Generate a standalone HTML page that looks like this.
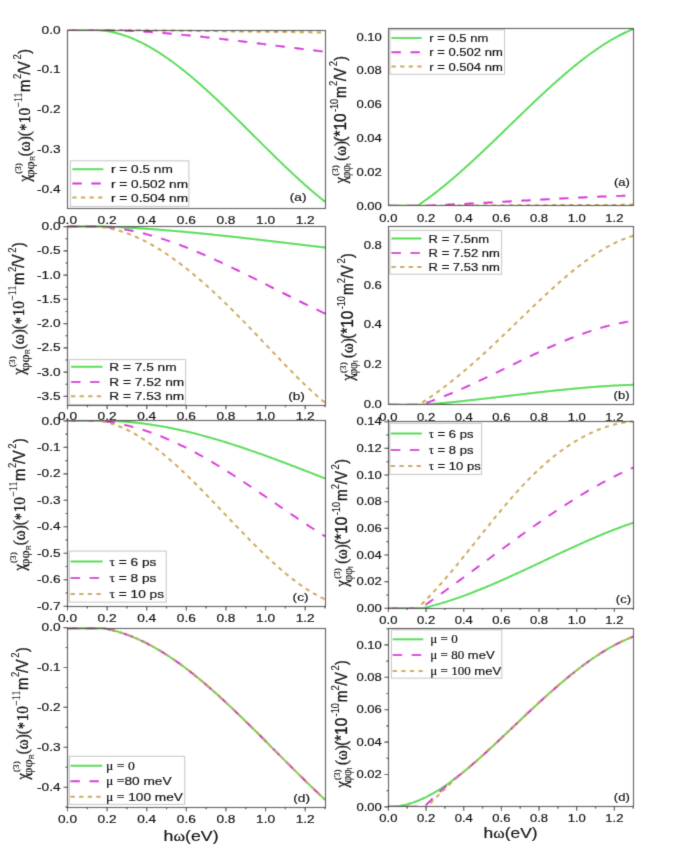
<!DOCTYPE html><html><head><meta charset="utf-8"><title>figure</title><style>html,body{margin:0;padding:0;background:#fff}svg{display:block}</style></head><body>
<svg width="685" height="849" viewBox="0 0 685 849">
<defs>
<filter id="bl" filterUnits="userSpaceOnUse" x="0" y="0" width="685" height="849"><feConvolveMatrix order="3" kernelMatrix="1 5 1 5 25 5 1 5 1" divisor="49" edgeMode="duplicate" preserveAlpha="true"/></filter>
<clipPath id="cL1"><rect x="67.5" y="28.5" width="257.5" height="180.2"/></clipPath>
<clipPath id="cL2"><rect x="67.5" y="225.1" width="257.5" height="180.1"/></clipPath>
<clipPath id="cL3"><rect x="67.5" y="419.4" width="257.5" height="187.0"/></clipPath>
<clipPath id="cL4"><rect x="67.5" y="626.7" width="257.5" height="180.5"/></clipPath>
<clipPath id="cR1"><rect x="388.4" y="27.4" width="244.80000000000007" height="178.4"/></clipPath>
<clipPath id="cR2"><rect x="388.4" y="224.9" width="244.80000000000007" height="179.9"/></clipPath>
<clipPath id="cR3"><rect x="388.4" y="420.0" width="244.80000000000007" height="188.10000000000002"/></clipPath>
<clipPath id="cR4"><rect x="388.4" y="626.8" width="244.80000000000007" height="179.9000000000001"/></clipPath>
<filter id="bt" filterUnits="userSpaceOnUse" x="0" y="0" width="685" height="849"><feConvolveMatrix order="3" kernelMatrix="1 8 1 8 64 8 1 8 1" divisor="100" edgeMode="none" preserveAlpha="false"/></filter>
</defs>
<g filter="url(#bl)"><rect width="685" height="849" fill="#fff"/>
<g clip-path="url(#cL1)" fill="none" stroke-linejoin="round">
<path d="M67.5,30.0 L88.0,30.0 L89.0,30.0 L90.0,30.0 L91.0,30.0 L92.0,30.0 L93.0,30.0 L94.0,30.0 L95.0,30.0 L96.0,30.0 L97.0,30.0 L98.0,30.0 L99.0,30.1 L100.0,30.2 L101.0,30.3 L102.0,30.4 L103.0,30.5 L104.0,30.6 L105.0,30.7 L106.0,30.9 L107.0,31.0 L108.0,31.2 L109.0,31.4 L110.0,31.6 L111.0,31.8 L112.0,32.0 L113.0,32.2 L114.0,32.4 L115.0,32.7 L116.0,32.9 L117.0,33.2 L118.0,33.5 L119.0,33.8 L120.0,34.0 L121.0,34.3 L122.0,34.7 L123.0,35.0 L124.0,35.3 L125.0,35.7 L126.0,36.0 L127.0,36.4 L128.0,36.7 L129.0,37.1 L130.0,37.5 L131.0,37.9 L132.0,38.3 L133.0,38.7 L134.0,39.2 L135.0,39.6 L136.0,40.1 L137.0,40.5 L138.0,41.0 L139.0,41.5 L140.0,41.9 L141.0,42.4 L142.0,42.9 L143.0,43.4 L144.0,43.9 L145.0,44.5 L146.0,45.0 L147.0,45.5 L148.0,46.1 L149.0,46.6 L150.0,47.2 L151.0,47.8 L152.0,48.4 L153.0,49.0 L154.0,49.5 L155.0,50.2 L156.0,50.8 L157.0,51.4 L158.0,52.0 L159.0,52.6 L160.0,53.3 L161.0,53.9 L162.0,54.6 L163.0,55.3 L164.0,55.9 L165.0,56.6 L166.0,57.3 L167.0,58.0 L168.0,58.7 L169.0,59.4 L170.0,60.1 L171.0,60.8 L172.0,61.5 L173.0,62.3 L174.0,63.0 L175.0,63.8 L176.0,64.5 L177.0,65.3 L178.0,66.0 L179.0,66.8 L180.0,67.6 L181.0,68.3 L182.0,69.1 L183.0,69.9 L184.0,70.7 L185.0,71.5 L186.0,72.3 L187.0,73.2 L188.0,74.0 L189.0,74.8 L190.0,75.6 L191.0,76.5 L192.0,77.3 L193.0,78.2 L194.0,79.0 L195.0,79.9 L196.0,80.7 L197.0,81.6 L198.0,82.5 L199.0,83.3 L200.0,84.2 L201.0,85.1 L202.0,86.0 L203.0,86.9 L204.0,87.8 L205.0,88.7 L206.0,89.6 L207.0,90.5 L208.0,91.4 L209.0,92.3 L210.0,93.2 L211.0,94.1 L212.0,95.1 L213.0,96.0 L214.0,96.9 L215.0,97.9 L216.0,98.8 L217.0,99.7 L218.0,100.7 L219.0,101.6 L220.0,102.6 L221.0,103.5 L222.0,104.5 L223.0,105.4 L224.0,106.4 L225.0,107.4 L226.0,108.3 L227.0,109.3 L228.0,110.3 L229.0,111.2 L230.0,112.2 L231.0,113.2 L232.0,114.2 L233.0,115.1 L234.0,116.1 L235.0,117.1 L236.0,118.1 L237.0,119.1 L238.0,120.1 L239.0,121.0 L240.0,122.0 L241.0,123.0 L242.0,124.0 L243.0,125.0 L244.0,126.0 L245.0,127.0 L246.0,128.0 L247.0,129.0 L248.0,130.0 L249.0,131.0 L250.0,132.0 L251.0,133.0 L252.0,134.0 L253.0,135.0 L254.0,136.0 L255.0,136.9 L256.0,137.9 L257.0,138.9 L258.0,139.9 L259.0,140.9 L260.0,141.9 L261.0,142.9 L262.0,143.9 L263.0,144.9 L264.0,145.9 L265.0,146.9 L266.0,147.9 L267.0,148.9 L268.0,149.9 L269.0,150.8 L270.0,151.8 L271.0,152.8 L272.0,153.8 L273.0,154.8 L274.0,155.8 L275.0,156.7 L276.0,157.7 L277.0,158.7 L278.0,159.7 L279.0,160.6 L280.0,161.6 L281.0,162.6 L282.0,163.5 L283.0,164.5 L284.0,165.4 L285.0,166.4 L286.0,167.3 L287.0,168.3 L288.0,169.2 L289.0,170.2 L290.0,171.1 L291.0,172.1 L292.0,173.0 L293.0,173.9 L294.0,174.9 L295.0,175.8 L296.0,176.7 L297.0,177.6 L298.0,178.6 L299.0,179.5 L300.0,180.4 L301.0,181.3 L302.0,182.2 L303.0,183.1 L304.0,184.0 L305.0,184.9 L306.0,185.8 L307.0,186.6 L308.0,187.5 L309.0,188.4 L310.0,189.2 L311.0,190.1 L312.0,191.0 L313.0,191.8 L314.0,192.7 L315.0,193.5 L316.0,194.4 L317.0,195.2 L318.0,196.0 L319.0,196.8 L320.0,197.7 L321.0,198.5 L322.0,199.3 L323.0,200.1 L324.0,200.9 L325.0,201.7" stroke="#44dd44" stroke-width="2.0"/>
<path d="M67.5,30.0 L68.5,30.0 L69.5,30.0 L70.5,30.0 L71.5,30.0 L72.5,30.0 L73.5,30.0 L74.5,30.0 L75.5,30.0 L76.5,30.0 L77.5,30.0 L78.5,30.0 L79.5,30.0 L80.5,30.0 L81.5,30.0 L82.5,30.0 L83.5,30.0 L84.5,30.0 L85.5,30.0 L86.5,30.0 L87.5,30.0 L88.5,30.0 L89.5,30.0 L90.5,30.0 L91.5,30.0 L92.5,30.0 L93.5,30.0 L94.5,30.0 L95.5,30.0 L96.5,30.0 L97.5,30.0 L98.5,30.0 L99.5,30.0 L100.5,30.0 L101.5,30.0 L102.5,30.0 L103.5,30.0 L104.5,30.0 L105.5,30.0 L106.5,30.0 L107.5,30.0 L108.5,30.0 L109.5,30.0 L110.5,30.1 L111.5,30.1 L112.5,30.1 L113.5,30.2 L114.5,30.2 L115.5,30.2 L116.5,30.3 L117.5,30.3 L118.5,30.3 L119.5,30.4 L120.5,30.4 L121.5,30.5 L122.5,30.5 L123.5,30.5 L124.5,30.6 L125.5,30.6 L126.5,30.7 L127.5,30.7 L128.5,30.8 L129.5,30.8 L130.5,30.9 L131.5,30.9 L132.5,31.0 L133.5,31.0 L134.5,31.1 L135.5,31.1 L136.5,31.2 L137.5,31.3 L138.5,31.3 L139.5,31.4 L140.5,31.4 L141.5,31.5 L142.5,31.6 L143.5,31.6 L144.5,31.7 L145.5,31.8 L146.5,31.8 L147.5,31.9 L148.5,32.0 L149.5,32.0 L150.5,32.1 L151.5,32.2 L152.5,32.2 L153.5,32.3 L154.5,32.4 L155.5,32.5 L156.5,32.5 L157.5,32.6 L158.5,32.7 L159.5,32.8 L160.5,32.9 L161.5,32.9 L162.5,33.0 L163.5,33.1 L164.5,33.2 L165.5,33.3 L166.5,33.3 L167.5,33.4 L168.5,33.5 L169.5,33.6 L170.5,33.7 L171.5,33.8 L172.5,33.9 L173.5,34.0 L174.5,34.0 L175.5,34.1 L176.5,34.2 L177.5,34.3 L178.5,34.4 L179.5,34.5 L180.5,34.6 L181.5,34.7 L182.5,34.8 L183.5,34.9 L184.5,35.0 L185.5,35.1 L186.5,35.2 L187.5,35.3 L188.5,35.4 L189.5,35.5 L190.5,35.6 L191.5,35.7 L192.5,35.8 L193.5,35.9 L194.5,36.0 L195.5,36.1 L196.5,36.2 L197.5,36.3 L198.5,36.4 L199.5,36.5 L200.5,36.6 L201.5,36.7 L202.5,36.8 L203.5,36.9 L204.5,37.0 L205.5,37.2 L206.5,37.3 L207.5,37.4 L208.5,37.5 L209.5,37.6 L210.5,37.7 L211.5,37.8 L212.5,37.9 L213.5,38.0 L214.5,38.2 L215.5,38.3 L216.5,38.4 L217.5,38.5 L218.5,38.6 L219.5,38.7 L220.5,38.8 L221.5,39.0 L222.5,39.1 L223.5,39.2 L224.5,39.3 L225.5,39.4 L226.5,39.5 L227.5,39.7 L228.5,39.8 L229.5,39.9 L230.5,40.0 L231.5,40.1 L232.5,40.3 L233.5,40.4 L234.5,40.5 L235.5,40.6 L236.5,40.7 L237.5,40.9 L238.5,41.0 L239.5,41.1 L240.5,41.2 L241.5,41.3 L242.5,41.5 L243.5,41.6 L244.5,41.7 L245.5,41.8 L246.5,42.0 L247.5,42.1 L248.5,42.2 L249.5,42.3 L250.5,42.5 L251.5,42.6 L252.5,42.7 L253.5,42.8 L254.5,43.0 L255.5,43.1 L256.5,43.2 L257.5,43.3 L258.5,43.5 L259.5,43.6 L260.5,43.7 L261.5,43.8 L262.5,44.0 L263.5,44.1 L264.5,44.2 L265.5,44.3 L266.5,44.5 L267.5,44.6 L268.5,44.7 L269.5,44.8 L270.5,45.0 L271.5,45.1 L272.5,45.2 L273.5,45.3 L274.5,45.5 L275.5,45.6 L276.5,45.7 L277.5,45.9 L278.5,46.0 L279.5,46.1 L280.5,46.2 L281.5,46.4 L282.5,46.5 L283.5,46.6 L284.5,46.7 L285.5,46.9 L286.5,47.0 L287.5,47.1 L288.5,47.2 L289.5,47.4 L290.5,47.5 L291.5,47.6 L292.5,47.7 L293.5,47.9 L294.5,48.0 L295.5,48.1 L296.5,48.2 L297.5,48.4 L298.5,48.5 L299.5,48.6 L300.5,48.7 L301.5,48.9 L302.5,49.0 L303.5,49.1 L304.5,49.2 L305.5,49.4 L306.5,49.5 L307.5,49.6 L308.5,49.7 L309.5,49.8 L310.5,50.0 L311.5,50.1 L312.5,50.2 L313.5,50.3 L314.5,50.4 L315.5,50.6 L316.5,50.7 L317.5,50.8 L318.5,50.9 L319.5,51.0 L320.5,51.2 L321.5,51.3 L322.5,51.4 L323.5,51.5 L324.5,51.6 L325.0,51.7" stroke="#d814d8" stroke-width="2.0" stroke-dasharray="9.5 9.5"/>
<path d="M67.5,30.0 L68.5,30.0 L69.5,30.0 L70.5,30.0 L71.5,30.0 L72.5,30.0 L73.5,30.0 L74.5,30.0 L75.5,30.0 L76.5,30.0 L77.5,30.0 L78.5,30.0 L79.5,30.0 L80.5,30.0 L81.5,30.0 L82.5,30.0 L83.5,30.0 L84.5,30.0 L85.5,30.0 L86.5,30.0 L87.5,30.0 L88.5,30.0 L89.5,30.0 L90.5,30.0 L91.5,30.0 L92.5,30.0 L93.5,30.0 L94.5,30.0 L95.5,30.0 L96.5,30.0 L97.5,30.0 L98.5,30.0 L99.5,30.0 L100.5,30.0 L101.5,30.0 L102.5,30.1 L103.5,30.1 L104.5,30.1 L105.5,30.1 L106.5,30.1 L107.5,30.1 L108.5,30.1 L109.5,30.1 L110.5,30.1 L111.5,30.1 L112.5,30.1 L113.5,30.1 L114.5,30.1 L115.5,30.1 L116.5,30.1 L117.5,30.1 L118.5,30.1 L119.5,30.1 L120.5,30.1 L121.5,30.1 L122.5,30.1 L123.5,30.1 L124.5,30.1 L125.5,30.1 L126.5,30.1 L127.5,30.1 L128.5,30.1 L129.5,30.1 L130.5,30.1 L131.5,30.2 L132.5,30.2 L133.5,30.2 L134.5,30.2 L135.5,30.2 L136.5,30.2 L137.5,30.2 L138.5,30.2 L139.5,30.2 L140.5,30.2 L141.5,30.2 L142.5,30.2 L143.5,30.3 L144.5,30.3 L145.5,30.3 L146.5,30.3 L147.5,30.3 L148.5,30.3 L149.5,30.3 L150.5,30.3 L151.5,30.3 L152.5,30.3 L153.5,30.4 L154.5,30.4 L155.5,30.4 L156.5,30.4 L157.5,30.4 L158.5,30.4 L159.5,30.4 L160.5,30.4 L161.5,30.4 L162.5,30.5 L163.5,30.5 L164.5,30.5 L165.5,30.5 L166.5,30.5 L167.5,30.5 L168.5,30.5 L169.5,30.5 L170.5,30.6 L171.5,30.6 L172.5,30.6 L173.5,30.6 L174.5,30.6 L175.5,30.6 L176.5,30.6 L177.5,30.6 L178.5,30.7 L179.5,30.7 L180.5,30.7 L181.5,30.7 L182.5,30.7 L183.5,30.7 L184.5,30.7 L185.5,30.8 L186.5,30.8 L187.5,30.8 L188.5,30.8 L189.5,30.8 L190.5,30.8 L191.5,30.8 L192.5,30.8 L193.5,30.9 L194.5,30.9 L195.5,30.9 L196.5,30.9 L197.5,30.9 L198.5,30.9 L199.5,30.9 L200.5,30.9 L201.5,31.0 L202.5,31.0 L203.5,31.0 L204.5,31.0 L205.5,31.0 L206.5,31.0 L207.5,31.0 L208.5,31.0 L209.5,31.1 L210.5,31.1 L211.5,31.1 L212.5,31.1 L213.5,31.1 L214.5,31.1 L215.5,31.1 L216.5,31.1 L217.5,31.2 L218.5,31.2 L219.5,31.2 L220.5,31.2 L221.5,31.2 L222.5,31.2 L223.5,31.2 L224.5,31.3 L225.5,31.3 L226.5,31.3 L227.5,31.3 L228.5,31.3 L229.5,31.3 L230.5,31.3 L231.5,31.3 L232.5,31.4 L233.5,31.4 L234.5,31.4 L235.5,31.4 L236.5,31.4 L237.5,31.4 L238.5,31.4 L239.5,31.5 L240.5,31.5 L241.5,31.5 L242.5,31.5 L243.5,31.5 L244.5,31.5 L245.5,31.5 L246.5,31.6 L247.5,31.6 L248.5,31.6 L249.5,31.6 L250.5,31.6 L251.5,31.6 L252.5,31.6 L253.5,31.7 L254.5,31.7 L255.5,31.7 L256.5,31.7 L257.5,31.7 L258.5,31.7 L259.5,31.7 L260.5,31.7 L261.5,31.8 L262.5,31.8 L263.5,31.8 L264.5,31.8 L265.5,31.8 L266.5,31.8 L267.5,31.8 L268.5,31.8 L269.5,31.9 L270.5,31.9 L271.5,31.9 L272.5,31.9 L273.5,31.9 L274.5,31.9 L275.5,31.9 L276.5,31.9 L277.5,32.0 L278.5,32.0 L279.5,32.0 L280.5,32.0 L281.5,32.0 L282.5,32.0 L283.5,32.0 L284.5,32.0 L285.5,32.0 L286.5,32.1 L287.5,32.1 L288.5,32.1 L289.5,32.1 L290.5,32.1 L291.5,32.1 L292.5,32.1 L293.5,32.1 L294.5,32.2 L295.5,32.2 L296.5,32.2 L297.5,32.2 L298.5,32.2 L299.5,32.2 L300.5,32.2 L301.5,32.2 L302.5,32.2 L303.5,32.3 L304.5,32.3 L305.5,32.3 L306.5,32.3 L307.5,32.3 L308.5,32.3 L309.5,32.3 L310.5,32.3 L311.5,32.4 L312.5,32.4 L313.5,32.4 L314.5,32.4 L315.5,32.4 L316.5,32.4 L317.5,32.4 L318.5,32.4 L319.5,32.4 L320.5,32.5 L321.5,32.5 L322.5,32.5 L323.5,32.5 L324.5,32.5 L325.0,32.5" stroke="#cda640" stroke-width="2.0" stroke-dasharray="4.3 4.3"/>
</g>
<rect x="70.4" y="160.8" width="118.5" height="45.599999999999994" fill="#fff" stroke="#c4c4c4" stroke-width="1"/>
<line x1="72.3" y1="169.2" x2="103.3" y2="169.2" stroke="#44dd44" stroke-width="2"/>
<line x1="72.3" y1="183.6" x2="103.3" y2="183.6" stroke="#d814d8" stroke-width="2" stroke-dasharray="9.5 9.5"/>
<line x1="72.3" y1="197.6" x2="103.3" y2="197.6" stroke="#cda640" stroke-width="2" stroke-dasharray="4.3 4.3"/>
<rect x="67.5" y="30.5" width="258.0" height="178.0" fill="none" stroke="#303030" stroke-width="1.15"/>
<g clip-path="url(#cL2)" fill="none" stroke-linejoin="round">
<path d="M67.5,226.6 L105.0,226.6 L106.0,226.6 L107.0,226.7 L108.0,226.7 L109.0,226.8 L110.0,226.8 L111.0,226.8 L112.0,226.9 L113.0,226.9 L114.0,227.0 L115.0,227.0 L116.0,227.1 L117.0,227.1 L118.0,227.1 L119.0,227.2 L120.0,227.2 L121.0,227.3 L122.0,227.3 L123.0,227.4 L124.0,227.4 L125.0,227.5 L126.0,227.6 L127.0,227.6 L128.0,227.7 L129.0,227.7 L130.0,227.8 L131.0,227.8 L132.0,227.9 L133.0,228.0 L134.0,228.0 L135.0,228.1 L136.0,228.1 L137.0,228.2 L138.0,228.3 L139.0,228.3 L140.0,228.4 L141.0,228.4 L142.0,228.5 L143.0,228.6 L144.0,228.6 L145.0,228.7 L146.0,228.8 L147.0,228.8 L148.0,228.9 L149.0,229.0 L150.0,229.1 L151.0,229.1 L152.0,229.2 L153.0,229.3 L154.0,229.3 L155.0,229.4 L156.0,229.5 L157.0,229.6 L158.0,229.6 L159.0,229.7 L160.0,229.8 L161.0,229.9 L162.0,230.0 L163.0,230.0 L164.0,230.1 L165.0,230.2 L166.0,230.3 L167.0,230.4 L168.0,230.4 L169.0,230.5 L170.0,230.6 L171.0,230.7 L172.0,230.8 L173.0,230.9 L174.0,230.9 L175.0,231.0 L176.0,231.1 L177.0,231.2 L178.0,231.3 L179.0,231.4 L180.0,231.5 L181.0,231.6 L182.0,231.6 L183.0,231.7 L184.0,231.8 L185.0,231.9 L186.0,232.0 L187.0,232.1 L188.0,232.2 L189.0,232.3 L190.0,232.4 L191.0,232.5 L192.0,232.6 L193.0,232.7 L194.0,232.8 L195.0,232.8 L196.0,232.9 L197.0,233.0 L198.0,233.1 L199.0,233.2 L200.0,233.3 L201.0,233.4 L202.0,233.5 L203.0,233.6 L204.0,233.7 L205.0,233.8 L206.0,233.9 L207.0,234.0 L208.0,234.1 L209.0,234.2 L210.0,234.3 L211.0,234.4 L212.0,234.5 L213.0,234.6 L214.0,234.8 L215.0,234.9 L216.0,235.0 L217.0,235.1 L218.0,235.2 L219.0,235.3 L220.0,235.4 L221.0,235.5 L222.0,235.6 L223.0,235.7 L224.0,235.8 L225.0,235.9 L226.0,236.0 L227.0,236.1 L228.0,236.2 L229.0,236.3 L230.0,236.5 L231.0,236.6 L232.0,236.7 L233.0,236.8 L234.0,236.9 L235.0,237.0 L236.0,237.1 L237.0,237.2 L238.0,237.3 L239.0,237.4 L240.0,237.6 L241.0,237.7 L242.0,237.8 L243.0,237.9 L244.0,238.0 L245.0,238.1 L246.0,238.2 L247.0,238.4 L248.0,238.5 L249.0,238.6 L250.0,238.7 L251.0,238.8 L252.0,238.9 L253.0,239.0 L254.0,239.1 L255.0,239.3 L256.0,239.4 L257.0,239.5 L258.0,239.6 L259.0,239.7 L260.0,239.8 L261.0,240.0 L262.0,240.1 L263.0,240.2 L264.0,240.3 L265.0,240.4 L266.0,240.5 L267.0,240.7 L268.0,240.8 L269.0,240.9 L270.0,241.0 L271.0,241.1 L272.0,241.2 L273.0,241.4 L274.0,241.5 L275.0,241.6 L276.0,241.7 L277.0,241.8 L278.0,242.0 L279.0,242.1 L280.0,242.2 L281.0,242.3 L282.0,242.4 L283.0,242.5 L284.0,242.7 L285.0,242.8 L286.0,242.9 L287.0,243.0 L288.0,243.1 L289.0,243.3 L290.0,243.4 L291.0,243.5 L292.0,243.6 L293.0,243.7 L294.0,243.8 L295.0,244.0 L296.0,244.1 L297.0,244.2 L298.0,244.3 L299.0,244.4 L300.0,244.6 L301.0,244.7 L302.0,244.8 L303.0,244.9 L304.0,245.0 L305.0,245.2 L306.0,245.3 L307.0,245.4 L308.0,245.5 L309.0,245.6 L310.0,245.7 L311.0,245.9 L312.0,246.0 L313.0,246.1 L314.0,246.2 L315.0,246.3 L316.0,246.5 L317.0,246.6 L318.0,246.7 L319.0,246.8 L320.0,246.9 L321.0,247.0 L322.0,247.2 L323.0,247.3 L324.0,247.4 L325.0,247.5" stroke="#44dd44" stroke-width="2.0"/>
<path d="M67.5,226.6 L100.0,226.6 L101.0,226.7 L102.0,226.7 L103.0,226.8 L104.0,226.9 L105.0,226.9 L106.0,227.0 L107.0,227.1 L108.0,227.2 L109.0,227.3 L110.0,227.4 L111.0,227.5 L112.0,227.6 L113.0,227.7 L114.0,227.8 L115.0,228.0 L116.0,228.1 L117.0,228.2 L118.0,228.4 L119.0,228.5 L120.0,228.7 L121.0,228.8 L122.0,229.0 L123.0,229.1 L124.0,229.3 L125.0,229.5 L126.0,229.7 L127.0,229.8 L128.0,230.0 L129.0,230.2 L130.0,230.4 L131.0,230.6 L132.0,230.8 L133.0,231.0 L134.0,231.2 L135.0,231.4 L136.0,231.7 L137.0,231.9 L138.0,232.1 L139.0,232.4 L140.0,232.6 L141.0,232.8 L142.0,233.1 L143.0,233.3 L144.0,233.6 L145.0,233.8 L146.0,234.1 L147.0,234.4 L148.0,234.6 L149.0,234.9 L150.0,235.2 L151.0,235.4 L152.0,235.7 L153.0,236.0 L154.0,236.3 L155.0,236.6 L156.0,236.9 L157.0,237.2 L158.0,237.5 L159.0,237.8 L160.0,238.1 L161.0,238.4 L162.0,238.8 L163.0,239.1 L164.0,239.4 L165.0,239.7 L166.0,240.1 L167.0,240.4 L168.0,240.7 L169.0,241.1 L170.0,241.4 L171.0,241.8 L172.0,242.1 L173.0,242.5 L174.0,242.8 L175.0,243.2 L176.0,243.5 L177.0,243.9 L178.0,244.3 L179.0,244.6 L180.0,245.0 L181.0,245.4 L182.0,245.8 L183.0,246.2 L184.0,246.5 L185.0,246.9 L186.0,247.3 L187.0,247.7 L188.0,248.1 L189.0,248.5 L190.0,248.9 L191.0,249.3 L192.0,249.7 L193.0,250.1 L194.0,250.5 L195.0,250.9 L196.0,251.4 L197.0,251.8 L198.0,252.2 L199.0,252.6 L200.0,253.0 L201.0,253.5 L202.0,253.9 L203.0,254.3 L204.0,254.8 L205.0,255.2 L206.0,255.6 L207.0,256.1 L208.0,256.5 L209.0,256.9 L210.0,257.4 L211.0,257.8 L212.0,258.3 L213.0,258.7 L214.0,259.2 L215.0,259.6 L216.0,260.1 L217.0,260.6 L218.0,261.0 L219.0,261.5 L220.0,261.9 L221.0,262.4 L222.0,262.9 L223.0,263.3 L224.0,263.8 L225.0,264.3 L226.0,264.7 L227.0,265.2 L228.0,265.7 L229.0,266.2 L230.0,266.6 L231.0,267.1 L232.0,267.6 L233.0,268.1 L234.0,268.6 L235.0,269.0 L236.0,269.5 L237.0,270.0 L238.0,270.5 L239.0,271.0 L240.0,271.5 L241.0,272.0 L242.0,272.5 L243.0,272.9 L244.0,273.4 L245.0,273.9 L246.0,274.4 L247.0,274.9 L248.0,275.4 L249.0,275.9 L250.0,276.4 L251.0,276.9 L252.0,277.4 L253.0,277.9 L254.0,278.4 L255.0,278.9 L256.0,279.4 L257.0,279.9 L258.0,280.4 L259.0,280.9 L260.0,281.4 L261.0,281.9 L262.0,282.4 L263.0,282.9 L264.0,283.4 L265.0,283.9 L266.0,284.4 L267.0,284.9 L268.0,285.4 L269.0,285.9 L270.0,286.5 L271.0,287.0 L272.0,287.5 L273.0,288.0 L274.0,288.5 L275.0,289.0 L276.0,289.5 L277.0,290.0 L278.0,290.5 L279.0,291.0 L280.0,291.5 L281.0,292.0 L282.0,292.5 L283.0,293.0 L284.0,293.5 L285.0,294.0 L286.0,294.5 L287.0,295.0 L288.0,295.5 L289.0,296.0 L290.0,296.5 L291.0,297.0 L292.0,297.5 L293.0,298.0 L294.0,298.5 L295.0,299.0 L296.0,299.5 L297.0,300.0 L298.0,300.5 L299.0,301.0 L300.0,301.5 L301.0,302.0 L302.0,302.5 L303.0,303.0 L304.0,303.5 L305.0,304.0 L306.0,304.4 L307.0,304.9 L308.0,305.4 L309.0,305.9 L310.0,306.4 L311.0,306.9 L312.0,307.4 L313.0,307.8 L314.0,308.3 L315.0,308.8 L316.0,309.3 L317.0,309.7 L318.0,310.2 L319.0,310.7 L320.0,311.2 L321.0,311.6 L322.0,312.1 L323.0,312.6 L324.0,313.0 L325.0,313.5" stroke="#d814d8" stroke-width="2.0" stroke-dasharray="9.5 9.5"/>
<path d="M67.5,226.6 L95.0,226.6 L96.0,226.7 L97.0,226.7 L98.0,226.8 L99.0,226.9 L100.0,227.0 L101.0,227.1 L102.0,227.2 L103.0,227.3 L104.0,227.5 L105.0,227.6 L106.0,227.8 L107.0,227.9 L108.0,228.1 L109.0,228.3 L110.0,228.5 L111.0,228.7 L112.0,228.9 L113.0,229.1 L114.0,229.4 L115.0,229.6 L116.0,229.9 L117.0,230.1 L118.0,230.4 L119.0,230.7 L120.0,231.0 L121.0,231.3 L122.0,231.6 L123.0,231.9 L124.0,232.3 L125.0,232.6 L126.0,232.9 L127.0,233.3 L128.0,233.7 L129.0,234.0 L130.0,234.4 L131.0,234.8 L132.0,235.2 L133.0,235.6 L134.0,236.0 L135.0,236.5 L136.0,236.9 L137.0,237.3 L138.0,237.8 L139.0,238.3 L140.0,238.7 L141.0,239.2 L142.0,239.7 L143.0,240.2 L144.0,240.7 L145.0,241.2 L146.0,241.7 L147.0,242.2 L148.0,242.8 L149.0,243.3 L150.0,243.9 L151.0,244.4 L152.0,245.0 L153.0,245.5 L154.0,246.1 L155.0,246.7 L156.0,247.3 L157.0,247.9 L158.0,248.5 L159.0,249.1 L160.0,249.7 L161.0,250.4 L162.0,251.0 L163.0,251.6 L164.0,252.3 L165.0,253.0 L166.0,253.6 L167.0,254.3 L168.0,255.0 L169.0,255.6 L170.0,256.3 L171.0,257.0 L172.0,257.7 L173.0,258.4 L174.0,259.2 L175.0,259.9 L176.0,260.6 L177.0,261.4 L178.0,262.1 L179.0,262.8 L180.0,263.6 L181.0,264.4 L182.0,265.1 L183.0,265.9 L184.0,266.7 L185.0,267.4 L186.0,268.2 L187.0,269.0 L188.0,269.8 L189.0,270.6 L190.0,271.4 L191.0,272.3 L192.0,273.1 L193.0,273.9 L194.0,274.7 L195.0,275.6 L196.0,276.4 L197.0,277.3 L198.0,278.1 L199.0,279.0 L200.0,279.9 L201.0,280.7 L202.0,281.6 L203.0,282.5 L204.0,283.4 L205.0,284.2 L206.0,285.1 L207.0,286.0 L208.0,286.9 L209.0,287.8 L210.0,288.7 L211.0,289.7 L212.0,290.6 L213.0,291.5 L214.0,292.4 L215.0,293.4 L216.0,294.3 L217.0,295.2 L218.0,296.2 L219.0,297.1 L220.0,298.1 L221.0,299.0 L222.0,300.0 L223.0,301.0 L224.0,301.9 L225.0,302.9 L226.0,303.9 L227.0,304.8 L228.0,305.8 L229.0,306.8 L230.0,307.8 L231.0,308.8 L232.0,309.8 L233.0,310.8 L234.0,311.8 L235.0,312.8 L236.0,313.8 L237.0,314.8 L238.0,315.8 L239.0,316.8 L240.0,317.8 L241.0,318.8 L242.0,319.8 L243.0,320.9 L244.0,321.9 L245.0,322.9 L246.0,323.9 L247.0,325.0 L248.0,326.0 L249.0,327.0 L250.0,328.1 L251.0,329.1 L252.0,330.1 L253.0,331.2 L254.0,332.2 L255.0,333.3 L256.0,334.3 L257.0,335.3 L258.0,336.4 L259.0,337.4 L260.0,338.5 L261.0,339.5 L262.0,340.6 L263.0,341.6 L264.0,342.7 L265.0,343.7 L266.0,344.8 L267.0,345.8 L268.0,346.9 L269.0,347.9 L270.0,349.0 L271.0,350.0 L272.0,351.1 L273.0,352.2 L274.0,353.2 L275.0,354.3 L276.0,355.3 L277.0,356.4 L278.0,357.4 L279.0,358.5 L280.0,359.5 L281.0,360.6 L282.0,361.6 L283.0,362.7 L284.0,363.7 L285.0,364.7 L286.0,365.8 L287.0,366.8 L288.0,367.8 L289.0,368.9 L290.0,369.9 L291.0,370.9 L292.0,371.9 L293.0,373.0 L294.0,374.0 L295.0,375.0 L296.0,376.0 L297.0,377.0 L298.0,378.0 L299.0,379.0 L300.0,380.0 L301.0,381.0 L302.0,381.9 L303.0,382.9 L304.0,383.9 L305.0,384.8 L306.0,385.8 L307.0,386.8 L308.0,387.7 L309.0,388.6 L310.0,389.6 L311.0,390.5 L312.0,391.4 L313.0,392.3 L314.0,393.2 L315.0,394.1 L316.0,395.0 L317.0,395.9 L318.0,396.8 L319.0,397.6 L320.0,398.5 L321.0,399.3 L322.0,400.2 L323.0,401.0 L324.0,401.8 L325.0,402.7" stroke="#cda640" stroke-width="2.0" stroke-dasharray="4.3 4.3"/>
</g>
<rect x="69.3" y="359.6" width="116.3" height="45.0" fill="#fff" stroke="#c4c4c4" stroke-width="1"/>
<line x1="71" y1="366.8" x2="102.5" y2="366.8" stroke="#44dd44" stroke-width="2"/>
<line x1="71" y1="381.9" x2="102.5" y2="381.9" stroke="#d814d8" stroke-width="2" stroke-dasharray="9.5 9.5"/>
<line x1="71" y1="396.3" x2="102.5" y2="396.3" stroke="#cda640" stroke-width="2" stroke-dasharray="4.3 4.3"/>
<rect x="67.5" y="226.5" width="258.0" height="179.0" fill="none" stroke="#303030" stroke-width="1.15"/>
<path d="M63.5,226.60H67.5M63.5,250.85H67.5M63.5,275.10H67.5M63.5,299.35H67.5M63.5,323.60H67.5M63.5,347.85H67.5M63.5,372.10H67.5M63.5,396.35H67.5M65.5,238.72H67.5M65.5,262.98H67.5M65.5,287.23H67.5M65.5,311.48H67.5M65.5,335.73H67.5M65.5,359.98H67.5M65.5,384.23H67.5M67.50,405.2V409.2M87.31,405.2V407.2M107.12,405.2V409.2M126.92,405.2V407.2M146.73,405.2V409.2M166.54,405.2V407.2M186.35,405.2V409.2M206.15,405.2V407.2M225.96,405.2V409.2M245.77,405.2V407.2M265.58,405.2V409.2M285.38,405.2V407.2M305.19,405.2V409.2M325.00,405.2V407.2" stroke="#303030" stroke-width="1.1" fill="none"/>
<g clip-path="url(#cL3)" fill="none" stroke-linejoin="round">
<path d="M67.5,420.9 L105.0,420.9 L106.0,420.9 L107.0,420.9 L108.0,420.9 L109.0,421.0 L110.0,421.0 L111.0,421.0 L112.0,421.0 L113.0,421.1 L114.0,421.1 L115.0,421.1 L116.0,421.2 L117.0,421.2 L118.0,421.3 L119.0,421.3 L120.0,421.4 L121.0,421.5 L122.0,421.5 L123.0,421.6 L124.0,421.6 L125.0,421.7 L126.0,421.8 L127.0,421.9 L128.0,421.9 L129.0,422.0 L130.0,422.1 L131.0,422.2 L132.0,422.3 L133.0,422.4 L134.0,422.5 L135.0,422.6 L136.0,422.7 L137.0,422.8 L138.0,422.9 L139.0,423.0 L140.0,423.2 L141.0,423.3 L142.0,423.4 L143.0,423.5 L144.0,423.6 L145.0,423.8 L146.0,423.9 L147.0,424.0 L148.0,424.2 L149.0,424.3 L150.0,424.5 L151.0,424.6 L152.0,424.8 L153.0,424.9 L154.0,425.1 L155.0,425.2 L156.0,425.4 L157.0,425.6 L158.0,425.7 L159.0,425.9 L160.0,426.1 L161.0,426.2 L162.0,426.4 L163.0,426.6 L164.0,426.8 L165.0,427.0 L166.0,427.1 L167.0,427.3 L168.0,427.5 L169.0,427.7 L170.0,427.9 L171.0,428.1 L172.0,428.3 L173.0,428.5 L174.0,428.7 L175.0,428.9 L176.0,429.1 L177.0,429.4 L178.0,429.6 L179.0,429.8 L180.0,430.0 L181.0,430.2 L182.0,430.5 L183.0,430.7 L184.0,430.9 L185.0,431.1 L186.0,431.4 L187.0,431.6 L188.0,431.8 L189.0,432.1 L190.0,432.3 L191.0,432.6 L192.0,432.8 L193.0,433.1 L194.0,433.3 L195.0,433.6 L196.0,433.8 L197.0,434.1 L198.0,434.3 L199.0,434.6 L200.0,434.9 L201.0,435.1 L202.0,435.4 L203.0,435.7 L204.0,435.9 L205.0,436.2 L206.0,436.5 L207.0,436.8 L208.0,437.0 L209.0,437.3 L210.0,437.6 L211.0,437.9 L212.0,438.2 L213.0,438.5 L214.0,438.7 L215.0,439.0 L216.0,439.3 L217.0,439.6 L218.0,439.9 L219.0,440.2 L220.0,440.5 L221.0,440.8 L222.0,441.1 L223.0,441.4 L224.0,441.7 L225.0,442.0 L226.0,442.3 L227.0,442.7 L228.0,443.0 L229.0,443.3 L230.0,443.6 L231.0,443.9 L232.0,444.2 L233.0,444.6 L234.0,444.9 L235.0,445.2 L236.0,445.5 L237.0,445.9 L238.0,446.2 L239.0,446.5 L240.0,446.8 L241.0,447.2 L242.0,447.5 L243.0,447.8 L244.0,448.2 L245.0,448.5 L246.0,448.8 L247.0,449.2 L248.0,449.5 L249.0,449.9 L250.0,450.2 L251.0,450.6 L252.0,450.9 L253.0,451.3 L254.0,451.6 L255.0,452.0 L256.0,452.3 L257.0,452.7 L258.0,453.0 L259.0,453.4 L260.0,453.7 L261.0,454.1 L262.0,454.4 L263.0,454.8 L264.0,455.1 L265.0,455.5 L266.0,455.9 L267.0,456.2 L268.0,456.6 L269.0,457.0 L270.0,457.3 L271.0,457.7 L272.0,458.1 L273.0,458.4 L274.0,458.8 L275.0,459.2 L276.0,459.5 L277.0,459.9 L278.0,460.3 L279.0,460.7 L280.0,461.0 L281.0,461.4 L282.0,461.8 L283.0,462.2 L284.0,462.5 L285.0,462.9 L286.0,463.3 L287.0,463.7 L288.0,464.0 L289.0,464.4 L290.0,464.8 L291.0,465.2 L292.0,465.6 L293.0,466.0 L294.0,466.3 L295.0,466.7 L296.0,467.1 L297.0,467.5 L298.0,467.9 L299.0,468.3 L300.0,468.6 L301.0,469.0 L302.0,469.4 L303.0,469.8 L304.0,470.2 L305.0,470.6 L306.0,471.0 L307.0,471.4 L308.0,471.8 L309.0,472.1 L310.0,472.5 L311.0,472.9 L312.0,473.3 L313.0,473.7 L314.0,474.1 L315.0,474.5 L316.0,474.9 L317.0,475.3 L318.0,475.7 L319.0,476.1 L320.0,476.5 L321.0,476.9 L322.0,477.3 L323.0,477.6 L324.0,478.0 L325.0,478.4" stroke="#44dd44" stroke-width="2.0"/>
<path d="M67.5,420.9 L100.0,420.9 L101.0,421.0 L102.0,421.1 L103.0,421.2 L104.0,421.3 L105.0,421.4 L106.0,421.5 L107.0,421.7 L108.0,421.8 L109.0,421.9 L110.0,422.1 L111.0,422.2 L112.0,422.4 L113.0,422.6 L114.0,422.7 L115.0,422.9 L116.0,423.1 L117.0,423.3 L118.0,423.5 L119.0,423.6 L120.0,423.8 L121.0,424.1 L122.0,424.3 L123.0,424.5 L124.0,424.7 L125.0,424.9 L126.0,425.2 L127.0,425.4 L128.0,425.6 L129.0,425.9 L130.0,426.1 L131.0,426.4 L132.0,426.7 L133.0,426.9 L134.0,427.2 L135.0,427.5 L136.0,427.8 L137.0,428.1 L138.0,428.3 L139.0,428.6 L140.0,428.9 L141.0,429.3 L142.0,429.6 L143.0,429.9 L144.0,430.2 L145.0,430.5 L146.0,430.9 L147.0,431.2 L148.0,431.5 L149.0,431.9 L150.0,432.2 L151.0,432.6 L152.0,433.0 L153.0,433.3 L154.0,433.7 L155.0,434.1 L156.0,434.4 L157.0,434.8 L158.0,435.2 L159.0,435.6 L160.0,436.0 L161.0,436.4 L162.0,436.8 L163.0,437.2 L164.0,437.6 L165.0,438.0 L166.0,438.5 L167.0,438.9 L168.0,439.3 L169.0,439.7 L170.0,440.2 L171.0,440.6 L172.0,441.1 L173.0,441.5 L174.0,442.0 L175.0,442.4 L176.0,442.9 L177.0,443.4 L178.0,443.8 L179.0,444.3 L180.0,444.8 L181.0,445.3 L182.0,445.8 L183.0,446.2 L184.0,446.7 L185.0,447.2 L186.0,447.7 L187.0,448.2 L188.0,448.7 L189.0,449.3 L190.0,449.8 L191.0,450.3 L192.0,450.8 L193.0,451.3 L194.0,451.9 L195.0,452.4 L196.0,452.9 L197.0,453.5 L198.0,454.0 L199.0,454.6 L200.0,455.1 L201.0,455.7 L202.0,456.2 L203.0,456.8 L204.0,457.4 L205.0,457.9 L206.0,458.5 L207.0,459.1 L208.0,459.6 L209.0,460.2 L210.0,460.8 L211.0,461.4 L212.0,462.0 L213.0,462.6 L214.0,463.2 L215.0,463.8 L216.0,464.4 L217.0,465.0 L218.0,465.6 L219.0,466.2 L220.0,466.8 L221.0,467.4 L222.0,468.0 L223.0,468.7 L224.0,469.3 L225.0,469.9 L226.0,470.5 L227.0,471.2 L228.0,471.8 L229.0,472.4 L230.0,473.1 L231.0,473.7 L232.0,474.3 L233.0,475.0 L234.0,475.6 L235.0,476.3 L236.0,476.9 L237.0,477.6 L238.0,478.2 L239.0,478.9 L240.0,479.5 L241.0,480.2 L242.0,480.8 L243.0,481.5 L244.0,482.2 L245.0,482.8 L246.0,483.5 L247.0,484.2 L248.0,484.8 L249.0,485.5 L250.0,486.2 L251.0,486.8 L252.0,487.5 L253.0,488.2 L254.0,488.8 L255.0,489.5 L256.0,490.2 L257.0,490.9 L258.0,491.5 L259.0,492.2 L260.0,492.9 L261.0,493.6 L262.0,494.3 L263.0,494.9 L264.0,495.6 L265.0,496.3 L266.0,497.0 L267.0,497.7 L268.0,498.4 L269.0,499.0 L270.0,499.7 L271.0,500.4 L272.0,501.1 L273.0,501.8 L274.0,502.5 L275.0,503.1 L276.0,503.8 L277.0,504.5 L278.0,505.2 L279.0,505.9 L280.0,506.6 L281.0,507.2 L282.0,507.9 L283.0,508.6 L284.0,509.3 L285.0,510.0 L286.0,510.7 L287.0,511.3 L288.0,512.0 L289.0,512.7 L290.0,513.4 L291.0,514.0 L292.0,514.7 L293.0,515.4 L294.0,516.1 L295.0,516.7 L296.0,517.4 L297.0,518.1 L298.0,518.8 L299.0,519.4 L300.0,520.1 L301.0,520.8 L302.0,521.4 L303.0,522.1 L304.0,522.8 L305.0,523.4 L306.0,524.1 L307.0,524.7 L308.0,525.4 L309.0,526.1 L310.0,526.7 L311.0,527.4 L312.0,528.0 L313.0,528.7 L314.0,529.3 L315.0,530.0 L316.0,530.6 L317.0,531.2 L318.0,531.9 L319.0,532.5 L320.0,533.1 L321.0,533.8 L322.0,534.4 L323.0,535.0 L324.0,535.7 L325.0,536.3" stroke="#d814d8" stroke-width="2.0" stroke-dasharray="9.5 9.5"/>
<path d="M67.5,420.9 L98.0,420.9 L99.0,421.0 L100.0,421.1 L101.0,421.3 L102.0,421.5 L103.0,421.6 L104.0,421.8 L105.0,422.0 L106.0,422.2 L107.0,422.5 L108.0,422.7 L109.0,423.0 L110.0,423.2 L111.0,423.5 L112.0,423.8 L113.0,424.1 L114.0,424.4 L115.0,424.8 L116.0,425.1 L117.0,425.5 L118.0,425.9 L119.0,426.3 L120.0,426.7 L121.0,427.1 L122.0,427.5 L123.0,427.9 L124.0,428.4 L125.0,428.8 L126.0,429.3 L127.0,429.8 L128.0,430.3 L129.0,430.8 L130.0,431.3 L131.0,431.8 L132.0,432.4 L133.0,432.9 L134.0,433.5 L135.0,434.0 L136.0,434.6 L137.0,435.2 L138.0,435.8 L139.0,436.4 L140.0,437.1 L141.0,437.7 L142.0,438.3 L143.0,439.0 L144.0,439.6 L145.0,440.3 L146.0,441.0 L147.0,441.7 L148.0,442.4 L149.0,443.1 L150.0,443.8 L151.0,444.5 L152.0,445.2 L153.0,446.0 L154.0,446.7 L155.0,447.5 L156.0,448.3 L157.0,449.0 L158.0,449.8 L159.0,450.6 L160.0,451.4 L161.0,452.2 L162.0,453.0 L163.0,453.8 L164.0,454.7 L165.0,455.5 L166.0,456.3 L167.0,457.2 L168.0,458.0 L169.0,458.9 L170.0,459.8 L171.0,460.7 L172.0,461.5 L173.0,462.4 L174.0,463.3 L175.0,464.2 L176.0,465.1 L177.0,466.0 L178.0,466.9 L179.0,467.9 L180.0,468.8 L181.0,469.7 L182.0,470.7 L183.0,471.6 L184.0,472.6 L185.0,473.5 L186.0,474.5 L187.0,475.4 L188.0,476.4 L189.0,477.4 L190.0,478.3 L191.0,479.3 L192.0,480.3 L193.0,481.3 L194.0,482.3 L195.0,483.3 L196.0,484.3 L197.0,485.3 L198.0,486.3 L199.0,487.3 L200.0,488.3 L201.0,489.3 L202.0,490.3 L203.0,491.3 L204.0,492.4 L205.0,493.4 L206.0,494.4 L207.0,495.4 L208.0,496.5 L209.0,497.5 L210.0,498.5 L211.0,499.6 L212.0,500.6 L213.0,501.7 L214.0,502.7 L215.0,503.7 L216.0,504.8 L217.0,505.8 L218.0,506.9 L219.0,507.9 L220.0,509.0 L221.0,510.0 L222.0,511.1 L223.0,512.1 L224.0,513.2 L225.0,514.2 L226.0,515.3 L227.0,516.3 L228.0,517.4 L229.0,518.4 L230.0,519.5 L231.0,520.5 L232.0,521.6 L233.0,522.6 L234.0,523.7 L235.0,524.7 L236.0,525.7 L237.0,526.8 L238.0,527.8 L239.0,528.9 L240.0,529.9 L241.0,530.9 L242.0,532.0 L243.0,533.0 L244.0,534.0 L245.0,535.1 L246.0,536.1 L247.0,537.1 L248.0,538.1 L249.0,539.2 L250.0,540.2 L251.0,541.2 L252.0,542.2 L253.0,543.2 L254.0,544.2 L255.0,545.2 L256.0,546.2 L257.0,547.2 L258.0,548.2 L259.0,549.2 L260.0,550.1 L261.0,551.1 L262.0,552.1 L263.0,553.0 L264.0,554.0 L265.0,555.0 L266.0,555.9 L267.0,556.9 L268.0,557.8 L269.0,558.7 L270.0,559.7 L271.0,560.6 L272.0,561.5 L273.0,562.4 L274.0,563.3 L275.0,564.3 L276.0,565.1 L277.0,566.0 L278.0,566.9 L279.0,567.8 L280.0,568.7 L281.0,569.5 L282.0,570.4 L283.0,571.3 L284.0,572.1 L285.0,572.9 L286.0,573.8 L287.0,574.6 L288.0,575.4 L289.0,576.2 L290.0,577.0 L291.0,577.8 L292.0,578.6 L293.0,579.4 L294.0,580.1 L295.0,580.9 L296.0,581.7 L297.0,582.4 L298.0,583.1 L299.0,583.9 L300.0,584.6 L301.0,585.3 L302.0,586.0 L303.0,586.7 L304.0,587.4 L305.0,588.0 L306.0,588.7 L307.0,589.3 L308.0,590.0 L309.0,590.6 L310.0,591.2 L311.0,591.8 L312.0,592.5 L313.0,593.0 L314.0,593.6 L315.0,594.2 L316.0,594.7 L317.0,595.3 L318.0,595.8 L319.0,596.4 L320.0,596.9 L321.0,597.4 L322.0,597.9 L323.0,598.3 L324.0,598.8 L325.0,599.3" stroke="#cda640" stroke-width="2.0" stroke-dasharray="4.3 4.3"/>
</g>
<rect x="69.3" y="551.1" width="96.89999999999999" height="51.10000000000002" fill="#fff" stroke="#c4c4c4" stroke-width="1"/>
<line x1="70.6" y1="561.5" x2="102.6" y2="561.5" stroke="#44dd44" stroke-width="2"/>
<line x1="70.6" y1="577.9" x2="102.6" y2="577.9" stroke="#d814d8" stroke-width="2" stroke-dasharray="9.5 9.5"/>
<line x1="70.6" y1="594.0" x2="102.6" y2="594.0" stroke="#cda640" stroke-width="2" stroke-dasharray="4.3 4.3"/>
<rect x="67.5" y="420.5" width="258.0" height="186.0" fill="none" stroke="#303030" stroke-width="1.15"/>
<path d="M63.5,420.90H67.5M63.5,447.37H67.5M63.5,473.84H67.5M63.5,500.31H67.5M63.5,526.78H67.5M63.5,553.25H67.5M63.5,579.72H67.5M63.5,606.19H67.5M65.5,434.13H67.5M65.5,460.60H67.5M65.5,487.07H67.5M65.5,513.54H67.5M65.5,540.01H67.5M65.5,566.48H67.5M65.5,592.95H67.5M67.50,606.4V610.4M87.31,606.4V608.4M107.12,606.4V610.4M126.92,606.4V608.4M146.73,606.4V610.4M166.54,606.4V608.4M186.35,606.4V610.4M206.15,606.4V608.4M225.96,606.4V610.4M245.77,606.4V608.4M265.58,606.4V610.4M285.38,606.4V608.4M305.19,606.4V610.4M325.00,606.4V608.4" stroke="#303030" stroke-width="1.1" fill="none"/>
<g clip-path="url(#cL4)" fill="none" stroke-linejoin="round">
<path d="M67.5,628.2 L68.5,628.2 L69.5,628.2 L70.5,628.2 L71.5,628.2 L72.5,628.2 L73.5,628.2 L74.5,628.2 L75.5,628.2 L76.5,628.2 L77.5,628.2 L78.5,628.2 L79.5,628.2 L80.5,628.2 L81.5,628.2 L82.5,628.2 L83.5,628.2 L84.5,628.2 L85.5,628.2 L86.5,628.2 L87.5,628.2 L88.5,628.2 L89.5,628.2 L90.5,628.2 L91.5,628.2 L92.5,628.2 L93.5,628.2 L94.5,628.2 L95.5,628.2 L96.5,628.2 L97.5,628.2 L98.5,628.2 L99.5,628.2 L100.5,628.2 L101.5,628.2 L102.5,628.2 L103.5,628.3 L104.5,628.5 L105.5,628.7 L106.5,628.9 L107.5,629.1 L108.5,629.3 L109.5,629.5 L110.5,629.7 L111.5,630.0 L112.5,630.2 L113.5,630.5 L114.5,630.8 L115.5,631.0 L116.5,631.3 L117.5,631.6 L118.5,631.9 L119.5,632.2 L120.5,632.5 L121.5,632.8 L122.5,633.1 L123.5,633.5 L124.5,633.8 L125.5,634.2 L126.5,634.5 L127.5,634.9 L128.5,635.3 L129.5,635.6 L130.5,636.0 L131.5,636.4 L132.5,636.8 L133.5,637.2 L134.5,637.7 L135.5,638.1 L136.5,638.5 L137.5,638.9 L138.5,639.4 L139.5,639.8 L140.5,640.3 L141.5,640.8 L142.5,641.3 L143.5,641.7 L144.5,642.2 L145.5,642.7 L146.5,643.2 L147.5,643.7 L148.5,644.3 L149.5,644.8 L150.5,645.3 L151.5,645.9 L152.5,646.4 L153.5,646.9 L154.5,647.5 L155.5,648.1 L156.5,648.6 L157.5,649.2 L158.5,649.8 L159.5,650.4 L160.5,651.0 L161.5,651.6 L162.5,652.2 L163.5,652.8 L164.5,653.5 L165.5,654.1 L166.5,654.7 L167.5,655.4 L168.5,656.0 L169.5,656.7 L170.5,657.4 L171.5,658.0 L172.5,658.7 L173.5,659.4 L174.5,660.1 L175.5,660.8 L176.5,661.5 L177.5,662.2 L178.5,662.9 L179.5,663.6 L180.5,664.3 L181.5,665.1 L182.5,665.8 L183.5,666.5 L184.5,667.3 L185.5,668.0 L186.5,668.8 L187.5,669.6 L188.5,670.3 L189.5,671.1 L190.5,671.9 L191.5,672.7 L192.5,673.5 L193.5,674.3 L194.5,675.1 L195.5,675.9 L196.5,676.7 L197.5,677.5 L198.5,678.3 L199.5,679.1 L200.5,680.0 L201.5,680.8 L202.5,681.6 L203.5,682.5 L204.5,683.3 L205.5,684.2 L206.5,685.0 L207.5,685.9 L208.5,686.8 L209.5,687.6 L210.5,688.5 L211.5,689.4 L212.5,690.3 L213.5,691.2 L214.5,692.1 L215.5,692.9 L216.5,693.8 L217.5,694.7 L218.5,695.6 L219.5,696.6 L220.5,697.5 L221.5,698.4 L222.5,699.3 L223.5,700.2 L224.5,701.1 L225.5,702.1 L226.5,703.0 L227.5,703.9 L228.5,704.9 L229.5,705.8 L230.5,706.8 L231.5,707.7 L232.5,708.6 L233.5,709.6 L234.5,710.6 L235.5,711.5 L236.5,712.5 L237.5,713.4 L238.5,714.4 L239.5,715.4 L240.5,716.3 L241.5,717.3 L242.5,718.3 L243.5,719.2 L244.5,720.2 L245.5,721.2 L246.5,722.2 L247.5,723.1 L248.5,724.1 L249.5,725.1 L250.5,726.1 L251.5,727.1 L252.5,728.1 L253.5,729.1 L254.5,730.1 L255.5,731.0 L256.5,732.0 L257.5,733.0 L258.5,734.0 L259.5,735.0 L260.5,736.0 L261.5,737.0 L262.5,738.0 L263.5,739.0 L264.5,740.0 L265.5,741.0 L266.5,742.0 L267.5,743.0 L268.5,744.0 L269.5,745.1 L270.5,746.1 L271.5,747.1 L272.5,748.1 L273.5,749.1 L274.5,750.1 L275.5,751.1 L276.5,752.1 L277.5,753.1 L278.5,754.1 L279.5,755.1 L280.5,756.1 L281.5,757.1 L282.5,758.1 L283.5,759.1 L284.5,760.1 L285.5,761.1 L286.5,762.1 L287.5,763.1 L288.5,764.1 L289.5,765.1 L290.5,766.1 L291.5,767.1 L292.5,768.1 L293.5,769.1 L294.5,770.1 L295.5,771.1 L296.5,772.1 L297.5,773.1 L298.5,774.1 L299.5,775.1 L300.5,776.1 L301.5,777.1 L302.5,778.0 L303.5,779.0 L304.5,780.0 L305.5,781.0 L306.5,782.0 L307.5,782.9 L308.5,783.9 L309.5,784.9 L310.5,785.9 L311.5,786.8 L312.5,787.8 L313.5,788.7 L314.5,789.7 L315.5,790.7 L316.5,791.6 L317.5,792.6 L318.5,793.5 L319.5,794.5 L320.5,795.4 L321.5,796.4 L322.5,797.3 L323.5,798.2 L324.5,799.2 L325.0,799.6" stroke="#44dd44" stroke-width="2.0"/>
<path d="M67.5,628.2 L68.5,628.2 L69.5,628.2 L70.5,628.2 L71.5,628.2 L72.5,628.2 L73.5,628.2 L74.5,628.2 L75.5,628.2 L76.5,628.2 L77.5,628.2 L78.5,628.2 L79.5,628.2 L80.5,628.2 L81.5,628.2 L82.5,628.2 L83.5,628.2 L84.5,628.2 L85.5,628.2 L86.5,628.2 L87.5,628.2 L88.5,628.2 L89.5,628.2 L90.5,628.2 L91.5,628.2 L92.5,628.2 L93.5,628.2 L94.5,628.2 L95.5,628.2 L96.5,628.2 L97.5,628.2 L98.5,628.2 L99.5,628.2 L100.5,628.2 L101.5,628.2 L102.5,628.2 L103.5,628.3 L104.5,628.5 L105.5,628.7 L106.5,628.9 L107.5,629.1 L108.5,629.3 L109.5,629.5 L110.5,629.7 L111.5,630.0 L112.5,630.2 L113.5,630.5 L114.5,630.8 L115.5,631.0 L116.5,631.3 L117.5,631.6 L118.5,631.9 L119.5,632.2 L120.5,632.5 L121.5,632.8 L122.5,633.1 L123.5,633.5 L124.5,633.8 L125.5,634.2 L126.5,634.5 L127.5,634.9 L128.5,635.3 L129.5,635.6 L130.5,636.0 L131.5,636.4 L132.5,636.8 L133.5,637.2 L134.5,637.7 L135.5,638.1 L136.5,638.5 L137.5,638.9 L138.5,639.4 L139.5,639.8 L140.5,640.3 L141.5,640.8 L142.5,641.3 L143.5,641.7 L144.5,642.2 L145.5,642.7 L146.5,643.2 L147.5,643.7 L148.5,644.3 L149.5,644.8 L150.5,645.3 L151.5,645.9 L152.5,646.4 L153.5,646.9 L154.5,647.5 L155.5,648.1 L156.5,648.6 L157.5,649.2 L158.5,649.8 L159.5,650.4 L160.5,651.0 L161.5,651.6 L162.5,652.2 L163.5,652.8 L164.5,653.5 L165.5,654.1 L166.5,654.7 L167.5,655.4 L168.5,656.0 L169.5,656.7 L170.5,657.4 L171.5,658.0 L172.5,658.7 L173.5,659.4 L174.5,660.1 L175.5,660.8 L176.5,661.5 L177.5,662.2 L178.5,662.9 L179.5,663.6 L180.5,664.3 L181.5,665.1 L182.5,665.8 L183.5,666.5 L184.5,667.3 L185.5,668.0 L186.5,668.8 L187.5,669.6 L188.5,670.3 L189.5,671.1 L190.5,671.9 L191.5,672.7 L192.5,673.5 L193.5,674.3 L194.5,675.1 L195.5,675.9 L196.5,676.7 L197.5,677.5 L198.5,678.3 L199.5,679.1 L200.5,680.0 L201.5,680.8 L202.5,681.6 L203.5,682.5 L204.5,683.3 L205.5,684.2 L206.5,685.0 L207.5,685.9 L208.5,686.8 L209.5,687.6 L210.5,688.5 L211.5,689.4 L212.5,690.3 L213.5,691.2 L214.5,692.1 L215.5,692.9 L216.5,693.8 L217.5,694.7 L218.5,695.6 L219.5,696.6 L220.5,697.5 L221.5,698.4 L222.5,699.3 L223.5,700.2 L224.5,701.1 L225.5,702.1 L226.5,703.0 L227.5,703.9 L228.5,704.9 L229.5,705.8 L230.5,706.8 L231.5,707.7 L232.5,708.6 L233.5,709.6 L234.5,710.6 L235.5,711.5 L236.5,712.5 L237.5,713.4 L238.5,714.4 L239.5,715.4 L240.5,716.3 L241.5,717.3 L242.5,718.3 L243.5,719.2 L244.5,720.2 L245.5,721.2 L246.5,722.2 L247.5,723.1 L248.5,724.1 L249.5,725.1 L250.5,726.1 L251.5,727.1 L252.5,728.1 L253.5,729.1 L254.5,730.1 L255.5,731.0 L256.5,732.0 L257.5,733.0 L258.5,734.0 L259.5,735.0 L260.5,736.0 L261.5,737.0 L262.5,738.0 L263.5,739.0 L264.5,740.0 L265.5,741.0 L266.5,742.0 L267.5,743.0 L268.5,744.0 L269.5,745.1 L270.5,746.1 L271.5,747.1 L272.5,748.1 L273.5,749.1 L274.5,750.1 L275.5,751.1 L276.5,752.1 L277.5,753.1 L278.5,754.1 L279.5,755.1 L280.5,756.1 L281.5,757.1 L282.5,758.1 L283.5,759.1 L284.5,760.1 L285.5,761.1 L286.5,762.1 L287.5,763.1 L288.5,764.1 L289.5,765.1 L290.5,766.1 L291.5,767.1 L292.5,768.1 L293.5,769.1 L294.5,770.1 L295.5,771.1 L296.5,772.1 L297.5,773.1 L298.5,774.1 L299.5,775.1 L300.5,776.1 L301.5,777.1 L302.5,778.0 L303.5,779.0 L304.5,780.0 L305.5,781.0 L306.5,782.0 L307.5,782.9 L308.5,783.9 L309.5,784.9 L310.5,785.9 L311.5,786.8 L312.5,787.8 L313.5,788.7 L314.5,789.7 L315.5,790.7 L316.5,791.6 L317.5,792.6 L318.5,793.5 L319.5,794.5 L320.5,795.4 L321.5,796.4 L322.5,797.3 L323.5,798.2 L324.5,799.2 L325.0,799.6" stroke="#d814d8" stroke-width="2.0" stroke-dasharray="9.5 9.5"/>
<path d="M67.5,628.2 L68.5,628.2 L69.5,628.2 L70.5,628.2 L71.5,628.2 L72.5,628.2 L73.5,628.2 L74.5,628.2 L75.5,628.2 L76.5,628.2 L77.5,628.2 L78.5,628.2 L79.5,628.2 L80.5,628.2 L81.5,628.2 L82.5,628.2 L83.5,628.2 L84.5,628.2 L85.5,628.2 L86.5,628.2 L87.5,628.2 L88.5,628.2 L89.5,628.2 L90.5,628.2 L91.5,628.2 L92.5,628.2 L93.5,628.2 L94.5,628.2 L95.5,628.2 L96.5,628.2 L97.5,628.2 L98.5,628.2 L99.5,628.2 L100.5,628.2 L101.5,628.2 L102.5,628.2 L103.5,628.3 L104.5,628.5 L105.5,628.7 L106.5,628.9 L107.5,629.1 L108.5,629.3 L109.5,629.5 L110.5,629.7 L111.5,630.0 L112.5,630.2 L113.5,630.5 L114.5,630.8 L115.5,631.0 L116.5,631.3 L117.5,631.6 L118.5,631.9 L119.5,632.2 L120.5,632.5 L121.5,632.8 L122.5,633.1 L123.5,633.5 L124.5,633.8 L125.5,634.2 L126.5,634.5 L127.5,634.9 L128.5,635.3 L129.5,635.6 L130.5,636.0 L131.5,636.4 L132.5,636.8 L133.5,637.2 L134.5,637.7 L135.5,638.1 L136.5,638.5 L137.5,638.9 L138.5,639.4 L139.5,639.8 L140.5,640.3 L141.5,640.8 L142.5,641.3 L143.5,641.7 L144.5,642.2 L145.5,642.7 L146.5,643.2 L147.5,643.7 L148.5,644.3 L149.5,644.8 L150.5,645.3 L151.5,645.9 L152.5,646.4 L153.5,646.9 L154.5,647.5 L155.5,648.1 L156.5,648.6 L157.5,649.2 L158.5,649.8 L159.5,650.4 L160.5,651.0 L161.5,651.6 L162.5,652.2 L163.5,652.8 L164.5,653.5 L165.5,654.1 L166.5,654.7 L167.5,655.4 L168.5,656.0 L169.5,656.7 L170.5,657.4 L171.5,658.0 L172.5,658.7 L173.5,659.4 L174.5,660.1 L175.5,660.8 L176.5,661.5 L177.5,662.2 L178.5,662.9 L179.5,663.6 L180.5,664.3 L181.5,665.1 L182.5,665.8 L183.5,666.5 L184.5,667.3 L185.5,668.0 L186.5,668.8 L187.5,669.6 L188.5,670.3 L189.5,671.1 L190.5,671.9 L191.5,672.7 L192.5,673.5 L193.5,674.3 L194.5,675.1 L195.5,675.9 L196.5,676.7 L197.5,677.5 L198.5,678.3 L199.5,679.1 L200.5,680.0 L201.5,680.8 L202.5,681.6 L203.5,682.5 L204.5,683.3 L205.5,684.2 L206.5,685.0 L207.5,685.9 L208.5,686.8 L209.5,687.6 L210.5,688.5 L211.5,689.4 L212.5,690.3 L213.5,691.2 L214.5,692.1 L215.5,692.9 L216.5,693.8 L217.5,694.7 L218.5,695.6 L219.5,696.6 L220.5,697.5 L221.5,698.4 L222.5,699.3 L223.5,700.2 L224.5,701.1 L225.5,702.1 L226.5,703.0 L227.5,703.9 L228.5,704.9 L229.5,705.8 L230.5,706.8 L231.5,707.7 L232.5,708.6 L233.5,709.6 L234.5,710.6 L235.5,711.5 L236.5,712.5 L237.5,713.4 L238.5,714.4 L239.5,715.4 L240.5,716.3 L241.5,717.3 L242.5,718.3 L243.5,719.2 L244.5,720.2 L245.5,721.2 L246.5,722.2 L247.5,723.1 L248.5,724.1 L249.5,725.1 L250.5,726.1 L251.5,727.1 L252.5,728.1 L253.5,729.1 L254.5,730.1 L255.5,731.0 L256.5,732.0 L257.5,733.0 L258.5,734.0 L259.5,735.0 L260.5,736.0 L261.5,737.0 L262.5,738.0 L263.5,739.0 L264.5,740.0 L265.5,741.0 L266.5,742.0 L267.5,743.0 L268.5,744.0 L269.5,745.1 L270.5,746.1 L271.5,747.1 L272.5,748.1 L273.5,749.1 L274.5,750.1 L275.5,751.1 L276.5,752.1 L277.5,753.1 L278.5,754.1 L279.5,755.1 L280.5,756.1 L281.5,757.1 L282.5,758.1 L283.5,759.1 L284.5,760.1 L285.5,761.1 L286.5,762.1 L287.5,763.1 L288.5,764.1 L289.5,765.1 L290.5,766.1 L291.5,767.1 L292.5,768.1 L293.5,769.1 L294.5,770.1 L295.5,771.1 L296.5,772.1 L297.5,773.1 L298.5,774.1 L299.5,775.1 L300.5,776.1 L301.5,777.1 L302.5,778.0 L303.5,779.0 L304.5,780.0 L305.5,781.0 L306.5,782.0 L307.5,782.9 L308.5,783.9 L309.5,784.9 L310.5,785.9 L311.5,786.8 L312.5,787.8 L313.5,788.7 L314.5,789.7 L315.5,790.7 L316.5,791.6 L317.5,792.6 L318.5,793.5 L319.5,794.5 L320.5,795.4 L321.5,796.4 L322.5,797.3 L323.5,798.2 L324.5,799.2 L325.0,799.6" stroke="#cda640" stroke-width="2.0" stroke-dasharray="4.3 4.3"/>
</g>
<rect x="69.3" y="756.3" width="115.39999999999999" height="48.10000000000002" fill="#fff" stroke="#c4c4c4" stroke-width="1"/>
<line x1="70.5" y1="765.7" x2="102.4" y2="765.7" stroke="#44dd44" stroke-width="2"/>
<line x1="70.5" y1="781.2" x2="102.4" y2="781.2" stroke="#d814d8" stroke-width="2" stroke-dasharray="9.5 9.5"/>
<line x1="70.5" y1="796.7" x2="102.4" y2="796.7" stroke="#cda640" stroke-width="2" stroke-dasharray="4.3 4.3"/>
<rect x="67.5" y="628.5" width="258.0" height="179.0" fill="none" stroke="#303030" stroke-width="1.15"/>
<path d="M63.5,627.60H67.5M63.5,667.50H67.5M63.5,707.40H67.5M63.5,747.30H67.5M63.5,787.20H67.5M65.5,647.55H67.5M65.5,687.45H67.5M65.5,727.35H67.5M65.5,767.25H67.5M65.5,807.15H67.5M67.50,807.2V811.2M87.31,807.2V809.2M107.12,807.2V811.2M126.92,807.2V809.2M146.73,807.2V811.2M166.54,807.2V809.2M186.35,807.2V811.2M206.15,807.2V809.2M225.96,807.2V811.2M245.77,807.2V809.2M265.58,807.2V811.2M285.38,807.2V809.2M305.19,807.2V811.2M325.00,807.2V809.2" stroke="#303030" stroke-width="1.1" fill="none"/>
<g clip-path="url(#cR1)" fill="none" stroke-linejoin="round">
<path d="M388.5,205.8 L417.3,205.8 L418.3,205.1 L419.3,204.5 L420.3,203.8 L421.3,203.1 L422.3,202.4 L423.3,201.7 L424.3,201.0 L425.3,200.3 L426.3,199.6 L427.3,198.9 L428.3,198.1 L429.3,197.4 L430.3,196.7 L431.3,195.9 L432.3,195.2 L433.3,194.4 L434.3,193.6 L435.3,192.9 L436.3,192.1 L437.3,191.3 L438.3,190.5 L439.3,189.7 L440.3,188.9 L441.3,188.1 L442.3,187.3 L443.3,186.5 L444.3,185.7 L445.3,184.9 L446.3,184.1 L447.3,183.2 L448.3,182.4 L449.3,181.6 L450.3,180.7 L451.3,179.9 L452.3,179.0 L453.3,178.2 L454.3,177.3 L455.3,176.5 L456.3,175.6 L457.3,174.7 L458.3,173.8 L459.3,173.0 L460.3,172.1 L461.3,171.2 L462.3,170.3 L463.3,169.4 L464.3,168.5 L465.3,167.6 L466.3,166.7 L467.3,165.8 L468.3,164.9 L469.3,164.0 L470.3,163.1 L471.3,162.2 L472.3,161.2 L473.3,160.3 L474.3,159.4 L475.3,158.5 L476.3,157.5 L477.3,156.6 L478.3,155.7 L479.3,154.7 L480.3,153.8 L481.3,152.8 L482.3,151.9 L483.3,151.0 L484.3,150.0 L485.3,149.1 L486.3,148.1 L487.3,147.2 L488.3,146.2 L489.3,145.2 L490.3,144.3 L491.3,143.3 L492.3,142.4 L493.3,141.4 L494.3,140.4 L495.3,139.5 L496.3,138.5 L497.3,137.5 L498.3,136.6 L499.3,135.6 L500.3,134.6 L501.3,133.7 L502.3,132.7 L503.3,131.7 L504.3,130.8 L505.3,129.8 L506.3,128.8 L507.3,127.9 L508.3,126.9 L509.3,125.9 L510.3,124.9 L511.3,124.0 L512.3,123.0 L513.3,122.0 L514.3,121.1 L515.3,120.1 L516.3,119.1 L517.3,118.2 L518.3,117.2 L519.3,116.2 L520.3,115.3 L521.3,114.3 L522.3,113.3 L523.3,112.4 L524.3,111.4 L525.3,110.4 L526.3,109.5 L527.3,108.5 L528.3,107.6 L529.3,106.6 L530.3,105.6 L531.3,104.7 L532.3,103.7 L533.3,102.8 L534.3,101.8 L535.3,100.9 L536.3,99.9 L537.3,99.0 L538.3,98.1 L539.3,97.1 L540.3,96.2 L541.3,95.2 L542.3,94.3 L543.3,93.4 L544.3,92.5 L545.3,91.5 L546.3,90.6 L547.3,89.7 L548.3,88.8 L549.3,87.9 L550.3,87.0 L551.3,86.1 L552.3,85.1 L553.3,84.2 L554.3,83.3 L555.3,82.5 L556.3,81.6 L557.3,80.7 L558.3,79.8 L559.3,78.9 L560.3,78.0 L561.3,77.2 L562.3,76.3 L563.3,75.4 L564.3,74.6 L565.3,73.7 L566.3,72.9 L567.3,72.0 L568.3,71.2 L569.3,70.3 L570.3,69.5 L571.3,68.7 L572.3,67.8 L573.3,67.0 L574.3,66.2 L575.3,65.4 L576.3,64.6 L577.3,63.8 L578.3,63.0 L579.3,62.2 L580.3,61.4 L581.3,60.6 L582.3,59.8 L583.3,59.1 L584.3,58.3 L585.3,57.5 L586.3,56.8 L587.3,56.0 L588.3,55.3 L589.3,54.5 L590.3,53.8 L591.3,53.1 L592.3,52.4 L593.3,51.7 L594.3,51.0 L595.3,50.3 L596.3,49.6 L597.3,48.9 L598.3,48.2 L599.3,47.5 L600.3,46.8 L601.3,46.2 L602.3,45.5 L603.3,44.9 L604.3,44.2 L605.3,43.6 L606.3,43.0 L607.3,42.4 L608.3,41.7 L609.3,41.1 L610.3,40.5 L611.3,39.9 L612.3,39.4 L613.3,38.8 L614.3,38.2 L615.3,37.7 L616.3,37.1 L617.3,36.6 L618.3,36.0 L619.3,35.5 L620.3,35.0 L621.3,34.5 L622.3,34.0 L623.3,33.5 L624.3,33.0 L625.3,32.5 L626.3,32.0 L627.3,31.6 L628.3,31.1 L629.3,30.7 L630.3,30.2 L631.3,29.8 L632.3,29.4 L633.2,29.0" stroke="#44dd44" stroke-width="2.0"/>
<path d="M388.5,205.8 L420.0,205.8 L421.0,205.8 L422.0,205.7 L423.0,205.7 L424.0,205.7 L425.0,205.6 L426.0,205.6 L427.0,205.5 L428.0,205.5 L429.0,205.5 L430.0,205.4 L431.0,205.4 L432.0,205.4 L433.0,205.3 L434.0,205.3 L435.0,205.2 L436.0,205.2 L437.0,205.2 L438.0,205.1 L439.0,205.1 L440.0,205.0 L441.0,205.0 L442.0,204.9 L443.0,204.9 L444.0,204.9 L445.0,204.8 L446.0,204.8 L447.0,204.7 L448.0,204.7 L449.0,204.6 L450.0,204.6 L451.0,204.5 L452.0,204.5 L453.0,204.4 L454.0,204.4 L455.0,204.3 L456.0,204.3 L457.0,204.2 L458.0,204.2 L459.0,204.1 L460.0,204.1 L461.0,204.1 L462.0,204.0 L463.0,204.0 L464.0,203.9 L465.0,203.9 L466.0,203.8 L467.0,203.7 L468.0,203.7 L469.0,203.6 L470.0,203.6 L471.0,203.5 L472.0,203.5 L473.0,203.4 L474.0,203.4 L475.0,203.3 L476.0,203.3 L477.0,203.2 L478.0,203.2 L479.0,203.1 L480.0,203.1 L481.0,203.0 L482.0,203.0 L483.0,202.9 L484.0,202.8 L485.0,202.8 L486.0,202.7 L487.0,202.7 L488.0,202.6 L489.0,202.6 L490.0,202.5 L491.0,202.5 L492.0,202.4 L493.0,202.4 L494.0,202.3 L495.0,202.2 L496.0,202.2 L497.0,202.1 L498.0,202.1 L499.0,202.0 L500.0,202.0 L501.0,201.9 L502.0,201.8 L503.0,201.8 L504.0,201.7 L505.0,201.7 L506.0,201.6 L507.0,201.6 L508.0,201.5 L509.0,201.4 L510.0,201.4 L511.0,201.3 L512.0,201.3 L513.0,201.2 L514.0,201.2 L515.0,201.1 L516.0,201.0 L517.0,201.0 L518.0,200.9 L519.0,200.9 L520.0,200.8 L521.0,200.8 L522.0,200.7 L523.0,200.6 L524.0,200.6 L525.0,200.5 L526.0,200.5 L527.0,200.4 L528.0,200.4 L529.0,200.3 L530.0,200.2 L531.0,200.2 L532.0,200.1 L533.0,200.1 L534.0,200.0 L535.0,200.0 L536.0,199.9 L537.0,199.8 L538.0,199.8 L539.0,199.7 L540.0,199.7 L541.0,199.6 L542.0,199.6 L543.0,199.5 L544.0,199.5 L545.0,199.4 L546.0,199.3 L547.0,199.3 L548.0,199.2 L549.0,199.2 L550.0,199.1 L551.0,199.1 L552.0,199.0 L553.0,199.0 L554.0,198.9 L555.0,198.8 L556.0,198.8 L557.0,198.7 L558.0,198.7 L559.0,198.6 L560.0,198.6 L561.0,198.5 L562.0,198.5 L563.0,198.4 L564.0,198.4 L565.0,198.3 L566.0,198.3 L567.0,198.2 L568.0,198.2 L569.0,198.1 L570.0,198.1 L571.0,198.0 L572.0,198.0 L573.0,197.9 L574.0,197.8 L575.0,197.8 L576.0,197.8 L577.0,197.7 L578.0,197.7 L579.0,197.6 L580.0,197.6 L581.0,197.5 L582.0,197.5 L583.0,197.4 L584.0,197.4 L585.0,197.3 L586.0,197.3 L587.0,197.2 L588.0,197.2 L589.0,197.1 L590.0,197.1 L591.0,197.0 L592.0,197.0 L593.0,196.9 L594.0,196.9 L595.0,196.9 L596.0,196.8 L597.0,196.8 L598.0,196.7 L599.0,196.7 L600.0,196.6 L601.0,196.6 L602.0,196.6 L603.0,196.5 L604.0,196.5 L605.0,196.4 L606.0,196.4 L607.0,196.4 L608.0,196.3 L609.0,196.3 L610.0,196.3 L611.0,196.2 L612.0,196.2 L613.0,196.1 L614.0,196.1 L615.0,196.1 L616.0,196.0 L617.0,196.0 L618.0,196.0 L619.0,195.9 L620.0,195.9 L621.0,195.9 L622.0,195.8 L623.0,195.8 L624.0,195.8 L625.0,195.7 L626.0,195.7 L627.0,195.7 L628.0,195.6 L629.0,195.6 L630.0,195.6 L631.0,195.6 L632.0,195.5 L633.0,195.5 L633.2,195.5" stroke="#d814d8" stroke-width="2.0" stroke-dasharray="9.5 9.5"/>
<path d="M388.5,205.8 L420.0,205.8 L421.0,205.8 L422.0,205.8 L423.0,205.8 L424.0,205.8 L425.0,205.8 L426.0,205.8 L427.0,205.8 L428.0,205.8 L429.0,205.8 L430.0,205.7 L431.0,205.7 L432.0,205.7 L433.0,205.7 L434.0,205.7 L435.0,205.7 L436.0,205.7 L437.0,205.7 L438.0,205.7 L439.0,205.7 L440.0,205.7 L441.0,205.7 L442.0,205.7 L443.0,205.7 L444.0,205.7 L445.0,205.7 L446.0,205.7 L447.0,205.7 L448.0,205.7 L449.0,205.7 L450.0,205.6 L451.0,205.6 L452.0,205.6 L453.0,205.6 L454.0,205.6 L455.0,205.6 L456.0,205.6 L457.0,205.6 L458.0,205.6 L459.0,205.6 L460.0,205.6 L461.0,205.6 L462.0,205.6 L463.0,205.6 L464.0,205.6 L465.0,205.6 L466.0,205.6 L467.0,205.6 L468.0,205.6 L469.0,205.6 L470.0,205.5 L471.0,205.5 L472.0,205.5 L473.0,205.5 L474.0,205.5 L475.0,205.5 L476.0,205.5 L477.0,205.5 L478.0,205.5 L479.0,205.5 L480.0,205.5 L481.0,205.5 L482.0,205.5 L483.0,205.5 L484.0,205.5 L485.0,205.5 L486.0,205.5 L487.0,205.5 L488.0,205.5 L489.0,205.5 L490.0,205.4 L491.0,205.4 L492.0,205.4 L493.0,205.4 L494.0,205.4 L495.0,205.4 L496.0,205.4 L497.0,205.4 L498.0,205.4 L499.0,205.4 L500.0,205.4 L501.0,205.4 L502.0,205.4 L503.0,205.4 L504.0,205.4 L505.0,205.4 L506.0,205.4 L507.0,205.4 L508.0,205.4 L509.0,205.4 L510.0,205.4 L511.0,205.3 L512.0,205.3 L513.0,205.3 L514.0,205.3 L515.0,205.3 L516.0,205.3 L517.0,205.3 L518.0,205.3 L519.0,205.3 L520.0,205.3 L521.0,205.3 L522.0,205.3 L523.0,205.3 L524.0,205.3 L525.0,205.3 L526.0,205.3 L527.0,205.3 L528.0,205.3 L529.0,205.3 L530.0,205.3 L531.0,205.3 L532.0,205.2 L533.0,205.2 L534.0,205.2 L535.0,205.2 L536.0,205.2 L537.0,205.2 L538.0,205.2 L539.0,205.2 L540.0,205.2 L541.0,205.2 L542.0,205.2 L543.0,205.2 L544.0,205.2 L545.0,205.2 L546.0,205.2 L547.0,205.2 L548.0,205.2 L549.0,205.2 L550.0,205.2 L551.0,205.2 L552.0,205.2 L553.0,205.2 L554.0,205.1 L555.0,205.1 L556.0,205.1 L557.0,205.1 L558.0,205.1 L559.0,205.1 L560.0,205.1 L561.0,205.1 L562.0,205.1 L563.0,205.1 L564.0,205.1 L565.0,205.1 L566.0,205.1 L567.0,205.1 L568.0,205.1 L569.0,205.1 L570.0,205.1 L571.0,205.1 L572.0,205.1 L573.0,205.1 L574.0,205.1 L575.0,205.1 L576.0,205.0 L577.0,205.0 L578.0,205.0 L579.0,205.0 L580.0,205.0 L581.0,205.0 L582.0,205.0 L583.0,205.0 L584.0,205.0 L585.0,205.0 L586.0,205.0 L587.0,205.0 L588.0,205.0 L589.0,205.0 L590.0,205.0 L591.0,205.0 L592.0,205.0 L593.0,205.0 L594.0,205.0 L595.0,205.0 L596.0,205.0 L597.0,205.0 L598.0,205.0 L599.0,204.9 L600.0,204.9 L601.0,204.9 L602.0,204.9 L603.0,204.9 L604.0,204.9 L605.0,204.9 L606.0,204.9 L607.0,204.9 L608.0,204.9 L609.0,204.9 L610.0,204.9 L611.0,204.9 L612.0,204.9 L613.0,204.9 L614.0,204.9 L615.0,204.9 L616.0,204.9 L617.0,204.9 L618.0,204.9 L619.0,204.9 L620.0,204.9 L621.0,204.9 L622.0,204.8 L623.0,204.8 L624.0,204.8 L625.0,204.8 L626.0,204.8 L627.0,204.8 L628.0,204.8 L629.0,204.8 L630.0,204.8 L631.0,204.8 L632.0,204.8 L633.0,204.8 L633.2,204.8" stroke="#cda640" stroke-width="2.0" stroke-dasharray="4.3 4.3"/>
</g>
<rect x="390.0" y="29.8" width="114.5" height="44.5" fill="#fff" stroke="#c4c4c4" stroke-width="1"/>
<line x1="391.5" y1="38.0" x2="421.7" y2="38.0" stroke="#44dd44" stroke-width="2"/>
<line x1="391.5" y1="52.3" x2="421.7" y2="52.3" stroke="#d814d8" stroke-width="2" stroke-dasharray="9.5 9.5"/>
<line x1="391.5" y1="66.6" x2="421.7" y2="66.6" stroke="#cda640" stroke-width="2" stroke-dasharray="4.3 4.3"/>
<rect x="388.5" y="28.5" width="245.0" height="177.0" fill="none" stroke="#303030" stroke-width="1.15"/>
<g clip-path="url(#cR2)" fill="none" stroke-linejoin="round">
<path d="M388.5,404.8 L421.5,404.8 L422.5,404.7 L423.5,404.6 L424.5,404.6 L425.5,404.5 L426.5,404.4 L427.5,404.3 L428.5,404.3 L429.5,404.2 L430.5,404.1 L431.5,404.0 L432.5,403.9 L433.5,403.8 L434.5,403.8 L435.5,403.7 L436.5,403.6 L437.5,403.5 L438.5,403.4 L439.5,403.3 L440.5,403.2 L441.5,403.1 L442.5,403.0 L443.5,403.0 L444.5,402.9 L445.5,402.8 L446.5,402.7 L447.5,402.6 L448.5,402.5 L449.5,402.4 L450.5,402.3 L451.5,402.2 L452.5,402.1 L453.5,402.0 L454.5,401.9 L455.5,401.8 L456.5,401.7 L457.5,401.6 L458.5,401.5 L459.5,401.4 L460.5,401.3 L461.5,401.2 L462.5,401.1 L463.5,401.0 L464.5,400.9 L465.5,400.7 L466.5,400.6 L467.5,400.5 L468.5,400.4 L469.5,400.3 L470.5,400.2 L471.5,400.1 L472.5,400.0 L473.5,399.9 L474.5,399.8 L475.5,399.7 L476.5,399.5 L477.5,399.4 L478.5,399.3 L479.5,399.2 L480.5,399.1 L481.5,399.0 L482.5,398.9 L483.5,398.8 L484.5,398.6 L485.5,398.5 L486.5,398.4 L487.5,398.3 L488.5,398.2 L489.5,398.1 L490.5,397.9 L491.5,397.8 L492.5,397.7 L493.5,397.6 L494.5,397.5 L495.5,397.4 L496.5,397.3 L497.5,397.1 L498.5,397.0 L499.5,396.9 L500.5,396.8 L501.5,396.7 L502.5,396.5 L503.5,396.4 L504.5,396.3 L505.5,396.2 L506.5,396.1 L507.5,396.0 L508.5,395.8 L509.5,395.7 L510.5,395.6 L511.5,395.5 L512.5,395.4 L513.5,395.3 L514.5,395.1 L515.5,395.0 L516.5,394.9 L517.5,394.8 L518.5,394.7 L519.5,394.6 L520.5,394.4 L521.5,394.3 L522.5,394.2 L523.5,394.1 L524.5,394.0 L525.5,393.9 L526.5,393.7 L527.5,393.6 L528.5,393.5 L529.5,393.4 L530.5,393.3 L531.5,393.2 L532.5,393.0 L533.5,392.9 L534.5,392.8 L535.5,392.7 L536.5,392.6 L537.5,392.5 L538.5,392.4 L539.5,392.2 L540.5,392.1 L541.5,392.0 L542.5,391.9 L543.5,391.8 L544.5,391.7 L545.5,391.6 L546.5,391.5 L547.5,391.4 L548.5,391.3 L549.5,391.1 L550.5,391.0 L551.5,390.9 L552.5,390.8 L553.5,390.7 L554.5,390.6 L555.5,390.5 L556.5,390.4 L557.5,390.3 L558.5,390.2 L559.5,390.1 L560.5,390.0 L561.5,389.9 L562.5,389.8 L563.5,389.7 L564.5,389.6 L565.5,389.5 L566.5,389.4 L567.5,389.3 L568.5,389.2 L569.5,389.1 L570.5,389.0 L571.5,388.9 L572.5,388.8 L573.5,388.7 L574.5,388.6 L575.5,388.5 L576.5,388.4 L577.5,388.3 L578.5,388.2 L579.5,388.1 L580.5,388.1 L581.5,388.0 L582.5,387.9 L583.5,387.8 L584.5,387.7 L585.5,387.6 L586.5,387.5 L587.5,387.5 L588.5,387.4 L589.5,387.3 L590.5,387.2 L591.5,387.1 L592.5,387.1 L593.5,387.0 L594.5,386.9 L595.5,386.8 L596.5,386.8 L597.5,386.7 L598.5,386.6 L599.5,386.5 L600.5,386.5 L601.5,386.4 L602.5,386.3 L603.5,386.3 L604.5,386.2 L605.5,386.1 L606.5,386.1 L607.5,386.0 L608.5,385.9 L609.5,385.9 L610.5,385.8 L611.5,385.8 L612.5,385.7 L613.5,385.6 L614.5,385.6 L615.5,385.5 L616.5,385.5 L617.5,385.4 L618.5,385.4 L619.5,385.3 L620.5,385.3 L621.5,385.2 L622.5,385.2 L623.5,385.1 L624.5,385.1 L625.5,385.1 L626.5,385.0 L627.5,385.0 L628.5,384.9 L629.5,384.9 L630.5,384.9 L631.5,384.8 L632.5,384.8 L633.2,384.8" stroke="#44dd44" stroke-width="2.0"/>
<path d="M388.5,404.8 L420.5,404.8 L421.5,404.5 L422.5,404.2 L423.5,403.8 L424.5,403.5 L425.5,403.2 L426.5,402.8 L427.5,402.5 L428.5,402.1 L429.5,401.8 L430.5,401.4 L431.5,401.1 L432.5,400.7 L433.5,400.3 L434.5,400.0 L435.5,399.6 L436.5,399.2 L437.5,398.8 L438.5,398.5 L439.5,398.1 L440.5,397.7 L441.5,397.3 L442.5,396.9 L443.5,396.5 L444.5,396.1 L445.5,395.7 L446.5,395.3 L447.5,394.9 L448.5,394.5 L449.5,394.1 L450.5,393.7 L451.5,393.3 L452.5,392.8 L453.5,392.4 L454.5,392.0 L455.5,391.6 L456.5,391.1 L457.5,390.7 L458.5,390.3 L459.5,389.8 L460.5,389.4 L461.5,389.0 L462.5,388.5 L463.5,388.1 L464.5,387.6 L465.5,387.2 L466.5,386.7 L467.5,386.3 L468.5,385.8 L469.5,385.4 L470.5,384.9 L471.5,384.4 L472.5,384.0 L473.5,383.5 L474.5,383.1 L475.5,382.6 L476.5,382.1 L477.5,381.7 L478.5,381.2 L479.5,380.7 L480.5,380.2 L481.5,379.8 L482.5,379.3 L483.5,378.8 L484.5,378.4 L485.5,377.9 L486.5,377.4 L487.5,376.9 L488.5,376.4 L489.5,376.0 L490.5,375.5 L491.5,375.0 L492.5,374.5 L493.5,374.0 L494.5,373.5 L495.5,373.1 L496.5,372.6 L497.5,372.1 L498.5,371.6 L499.5,371.1 L500.5,370.6 L501.5,370.1 L502.5,369.7 L503.5,369.2 L504.5,368.7 L505.5,368.2 L506.5,367.7 L507.5,367.2 L508.5,366.7 L509.5,366.2 L510.5,365.7 L511.5,365.3 L512.5,364.8 L513.5,364.3 L514.5,363.8 L515.5,363.3 L516.5,362.8 L517.5,362.3 L518.5,361.9 L519.5,361.4 L520.5,360.9 L521.5,360.4 L522.5,359.9 L523.5,359.4 L524.5,359.0 L525.5,358.5 L526.5,358.0 L527.5,357.5 L528.5,357.0 L529.5,356.6 L530.5,356.1 L531.5,355.6 L532.5,355.1 L533.5,354.7 L534.5,354.2 L535.5,353.7 L536.5,353.3 L537.5,352.8 L538.5,352.3 L539.5,351.9 L540.5,351.4 L541.5,350.9 L542.5,350.5 L543.5,350.0 L544.5,349.5 L545.5,349.1 L546.5,348.6 L547.5,348.2 L548.5,347.7 L549.5,347.3 L550.5,346.8 L551.5,346.4 L552.5,346.0 L553.5,345.5 L554.5,345.1 L555.5,344.6 L556.5,344.2 L557.5,343.8 L558.5,343.3 L559.5,342.9 L560.5,342.5 L561.5,342.1 L562.5,341.7 L563.5,341.2 L564.5,340.8 L565.5,340.4 L566.5,340.0 L567.5,339.6 L568.5,339.2 L569.5,338.8 L570.5,338.4 L571.5,338.0 L572.5,337.6 L573.5,337.2 L574.5,336.8 L575.5,336.4 L576.5,336.1 L577.5,335.7 L578.5,335.3 L579.5,334.9 L580.5,334.6 L581.5,334.2 L582.5,333.8 L583.5,333.5 L584.5,333.1 L585.5,332.8 L586.5,332.4 L587.5,332.1 L588.5,331.7 L589.5,331.4 L590.5,331.1 L591.5,330.7 L592.5,330.4 L593.5,330.1 L594.5,329.8 L595.5,329.5 L596.5,329.2 L597.5,328.9 L598.5,328.6 L599.5,328.3 L600.5,328.0 L601.5,327.7 L602.5,327.4 L603.5,327.1 L604.5,326.8 L605.5,326.6 L606.5,326.3 L607.5,326.0 L608.5,325.8 L609.5,325.5 L610.5,325.3 L611.5,325.0 L612.5,324.8 L613.5,324.6 L614.5,324.3 L615.5,324.1 L616.5,323.9 L617.5,323.7 L618.5,323.5 L619.5,323.3 L620.5,323.1 L621.5,322.9 L622.5,322.7 L623.5,322.5 L624.5,322.3 L625.5,322.1 L626.5,322.0 L627.5,321.8 L628.5,321.6 L629.5,321.5 L630.5,321.3 L631.5,321.2 L632.5,321.1 L633.2,321.0" stroke="#d814d8" stroke-width="2.0" stroke-dasharray="9.5 9.5"/>
<path d="M388.5,404.8 L418.6,404.8 L419.6,404.2 L420.6,403.5 L421.6,402.9 L422.6,402.2 L423.6,401.6 L424.6,400.9 L425.6,400.3 L426.6,399.6 L427.6,398.9 L428.6,398.2 L429.6,397.5 L430.6,396.9 L431.6,396.2 L432.6,395.5 L433.6,394.8 L434.6,394.0 L435.6,393.3 L436.6,392.6 L437.6,391.9 L438.6,391.2 L439.6,390.4 L440.6,389.7 L441.6,388.9 L442.6,388.2 L443.6,387.4 L444.6,386.7 L445.6,385.9 L446.6,385.2 L447.6,384.4 L448.6,383.6 L449.6,382.8 L450.6,382.1 L451.6,381.3 L452.6,380.5 L453.6,379.7 L454.6,378.9 L455.6,378.1 L456.6,377.3 L457.6,376.4 L458.6,375.6 L459.6,374.8 L460.6,374.0 L461.6,373.1 L462.6,372.3 L463.6,371.5 L464.6,370.6 L465.6,369.8 L466.6,368.9 L467.6,368.1 L468.6,367.2 L469.6,366.3 L470.6,365.5 L471.6,364.6 L472.6,363.7 L473.6,362.8 L474.6,361.9 L475.6,361.1 L476.6,360.2 L477.6,359.3 L478.6,358.4 L479.6,357.5 L480.6,356.6 L481.6,355.7 L482.6,354.7 L483.6,353.8 L484.6,352.9 L485.6,352.0 L486.6,351.1 L487.6,350.1 L488.6,349.2 L489.6,348.3 L490.6,347.3 L491.6,346.4 L492.6,345.5 L493.6,344.5 L494.6,343.6 L495.6,342.6 L496.6,341.7 L497.6,340.7 L498.6,339.8 L499.6,338.8 L500.6,337.9 L501.6,336.9 L502.6,336.0 L503.6,335.0 L504.6,334.1 L505.6,333.1 L506.6,332.1 L507.6,331.2 L508.6,330.2 L509.6,329.3 L510.6,328.3 L511.6,327.3 L512.6,326.4 L513.6,325.4 L514.6,324.4 L515.6,323.5 L516.6,322.5 L517.6,321.5 L518.6,320.6 L519.6,319.6 L520.6,318.6 L521.6,317.7 L522.6,316.7 L523.6,315.7 L524.6,314.8 L525.6,313.8 L526.6,312.9 L527.6,311.9 L528.6,310.9 L529.6,310.0 L530.6,309.0 L531.6,308.1 L532.6,307.1 L533.6,306.1 L534.6,305.2 L535.6,304.2 L536.6,303.3 L537.6,302.3 L538.6,301.4 L539.6,300.4 L540.6,299.5 L541.6,298.6 L542.6,297.6 L543.6,296.7 L544.6,295.8 L545.6,294.8 L546.6,293.9 L547.6,293.0 L548.6,292.1 L549.6,291.1 L550.6,290.2 L551.6,289.3 L552.6,288.4 L553.6,287.5 L554.6,286.6 L555.6,285.7 L556.6,284.8 L557.6,283.9 L558.6,283.0 L559.6,282.1 L560.6,281.3 L561.6,280.4 L562.6,279.5 L563.6,278.7 L564.6,277.8 L565.6,276.9 L566.6,276.1 L567.6,275.2 L568.6,274.4 L569.6,273.6 L570.6,272.7 L571.6,271.9 L572.6,271.1 L573.6,270.3 L574.6,269.5 L575.6,268.7 L576.6,267.9 L577.6,267.1 L578.6,266.3 L579.6,265.5 L580.6,264.8 L581.6,264.0 L582.6,263.2 L583.6,262.5 L584.6,261.7 L585.6,261.0 L586.6,260.3 L587.6,259.6 L588.6,258.8 L589.6,258.1 L590.6,257.4 L591.6,256.7 L592.6,256.0 L593.6,255.4 L594.6,254.7 L595.6,254.0 L596.6,253.4 L597.6,252.7 L598.6,252.1 L599.6,251.5 L600.6,250.8 L601.6,250.2 L602.6,249.6 L603.6,249.0 L604.6,248.4 L605.6,247.9 L606.6,247.3 L607.6,246.7 L608.6,246.2 L609.6,245.6 L610.6,245.1 L611.6,244.6 L612.6,244.1 L613.6,243.6 L614.6,243.1 L615.6,242.6 L616.6,242.1 L617.6,241.6 L618.6,241.2 L619.6,240.7 L620.6,240.3 L621.6,239.9 L622.6,239.5 L623.6,239.1 L624.6,238.7 L625.6,238.3 L626.6,238.0 L627.6,237.6 L628.6,237.3 L629.6,236.9 L630.6,236.6 L631.6,236.3 L632.6,236.0 L633.2,235.8" stroke="#cda640" stroke-width="2.0" stroke-dasharray="4.3 4.3"/>
</g>
<rect x="390.0" y="230.4" width="111.60000000000002" height="43.79999999999998" fill="#fff" stroke="#c4c4c4" stroke-width="1"/>
<line x1="391.5" y1="238.5" x2="421.5" y2="238.5" stroke="#44dd44" stroke-width="2"/>
<line x1="391.5" y1="253.0" x2="421.5" y2="253.0" stroke="#d814d8" stroke-width="2" stroke-dasharray="9.5 9.5"/>
<line x1="391.5" y1="267.0" x2="421.5" y2="267.0" stroke="#cda640" stroke-width="2" stroke-dasharray="4.3 4.3"/>
<rect x="388.5" y="226.5" width="245.0" height="178.0" fill="none" stroke="#303030" stroke-width="1.15"/>
<g clip-path="url(#cR3)" fill="none" stroke-linejoin="round">
<path d="M388.5,608.1 L422.8,608.1 L423.8,607.9 L424.8,607.6 L425.8,607.4 L426.8,607.2 L427.8,606.9 L428.8,606.7 L429.8,606.4 L430.8,606.2 L431.8,605.9 L432.8,605.6 L433.8,605.4 L434.8,605.1 L435.8,604.8 L436.8,604.5 L437.8,604.3 L438.8,604.0 L439.8,603.7 L440.8,603.4 L441.8,603.1 L442.8,602.8 L443.8,602.5 L444.8,602.2 L445.8,601.9 L446.8,601.6 L447.8,601.3 L448.8,600.9 L449.8,600.6 L450.8,600.3 L451.8,600.0 L452.8,599.6 L453.8,599.3 L454.8,599.0 L455.8,598.6 L456.8,598.3 L457.8,597.9 L458.8,597.6 L459.8,597.2 L460.8,596.9 L461.8,596.5 L462.8,596.1 L463.8,595.8 L464.8,595.4 L465.8,595.1 L466.8,594.7 L467.8,594.3 L468.8,593.9 L469.8,593.5 L470.8,593.2 L471.8,592.8 L472.8,592.4 L473.8,592.0 L474.8,591.6 L475.8,591.2 L476.8,590.8 L477.8,590.4 L478.8,590.0 L479.8,589.6 L480.8,589.2 L481.8,588.8 L482.8,588.4 L483.8,588.0 L484.8,587.6 L485.8,587.2 L486.8,586.7 L487.8,586.3 L488.8,585.9 L489.8,585.5 L490.8,585.1 L491.8,584.6 L492.8,584.2 L493.8,583.8 L494.8,583.3 L495.8,582.9 L496.8,582.5 L497.8,582.0 L498.8,581.6 L499.8,581.2 L500.8,580.7 L501.8,580.3 L502.8,579.8 L503.8,579.4 L504.8,579.0 L505.8,578.5 L506.8,578.1 L507.8,577.6 L508.8,577.2 L509.8,576.7 L510.8,576.2 L511.8,575.8 L512.8,575.3 L513.8,574.9 L514.8,574.4 L515.8,574.0 L516.8,573.5 L517.8,573.0 L518.8,572.6 L519.8,572.1 L520.8,571.7 L521.8,571.2 L522.8,570.7 L523.8,570.3 L524.8,569.8 L525.8,569.3 L526.8,568.9 L527.8,568.4 L528.8,567.9 L529.8,567.5 L530.8,567.0 L531.8,566.5 L532.8,566.1 L533.8,565.6 L534.8,565.1 L535.8,564.6 L536.8,564.2 L537.8,563.7 L538.8,563.2 L539.8,562.8 L540.8,562.3 L541.8,561.8 L542.8,561.3 L543.8,560.9 L544.8,560.4 L545.8,559.9 L546.8,559.5 L547.8,559.0 L548.8,558.5 L549.8,558.0 L550.8,557.6 L551.8,557.1 L552.8,556.6 L553.8,556.2 L554.8,555.7 L555.8,555.2 L556.8,554.7 L557.8,554.3 L558.8,553.8 L559.8,553.3 L560.8,552.9 L561.8,552.4 L562.8,551.9 L563.8,551.5 L564.8,551.0 L565.8,550.5 L566.8,550.1 L567.8,549.6 L568.8,549.2 L569.8,548.7 L570.8,548.2 L571.8,547.8 L572.8,547.3 L573.8,546.9 L574.8,546.4 L575.8,546.0 L576.8,545.5 L577.8,545.1 L578.8,544.6 L579.8,544.2 L580.8,543.7 L581.8,543.3 L582.8,542.8 L583.8,542.4 L584.8,541.9 L585.8,541.5 L586.8,541.0 L587.8,540.6 L588.8,540.2 L589.8,539.7 L590.8,539.3 L591.8,538.9 L592.8,538.4 L593.8,538.0 L594.8,537.6 L595.8,537.1 L596.8,536.7 L597.8,536.3 L598.8,535.9 L599.8,535.5 L600.8,535.0 L601.8,534.6 L602.8,534.2 L603.8,533.8 L604.8,533.4 L605.8,533.0 L606.8,532.6 L607.8,532.2 L608.8,531.8 L609.8,531.4 L610.8,531.0 L611.8,530.6 L612.8,530.2 L613.8,529.8 L614.8,529.4 L615.8,529.0 L616.8,528.7 L617.8,528.3 L618.8,527.9 L619.8,527.5 L620.8,527.2 L621.8,526.8 L622.8,526.4 L623.8,526.1 L624.8,525.7 L625.8,525.3 L626.8,525.0 L627.8,524.6 L628.8,524.3 L629.8,523.9 L630.8,523.6 L631.8,523.2 L632.8,522.9 L633.2,522.8" stroke="#44dd44" stroke-width="2.0"/>
<path d="M388.5,608.1 L420.6,608.1 L421.6,607.4 L422.6,606.7 L423.6,606.0 L424.6,605.3 L425.6,604.7 L426.6,604.0 L427.6,603.3 L428.6,602.6 L429.6,601.9 L430.6,601.2 L431.6,600.5 L432.6,599.8 L433.6,599.1 L434.6,598.4 L435.6,597.6 L436.6,596.9 L437.6,596.2 L438.6,595.5 L439.6,594.8 L440.6,594.1 L441.6,593.4 L442.6,592.7 L443.6,591.9 L444.6,591.2 L445.6,590.5 L446.6,589.8 L447.6,589.1 L448.6,588.3 L449.6,587.6 L450.6,586.9 L451.6,586.2 L452.6,585.5 L453.6,584.7 L454.6,584.0 L455.6,583.3 L456.6,582.5 L457.6,581.8 L458.6,581.1 L459.6,580.4 L460.6,579.6 L461.6,578.9 L462.6,578.2 L463.6,577.4 L464.6,576.7 L465.6,576.0 L466.6,575.2 L467.6,574.5 L468.6,573.8 L469.6,573.0 L470.6,572.3 L471.6,571.6 L472.6,570.8 L473.6,570.1 L474.6,569.3 L475.6,568.6 L476.6,567.9 L477.6,567.1 L478.6,566.4 L479.6,565.7 L480.6,564.9 L481.6,564.2 L482.6,563.4 L483.6,562.7 L484.6,562.0 L485.6,561.2 L486.6,560.5 L487.6,559.8 L488.6,559.0 L489.6,558.3 L490.6,557.5 L491.6,556.8 L492.6,556.1 L493.6,555.3 L494.6,554.6 L495.6,553.9 L496.6,553.1 L497.6,552.4 L498.6,551.7 L499.6,550.9 L500.6,550.2 L501.6,549.5 L502.6,548.7 L503.6,548.0 L504.6,547.3 L505.6,546.5 L506.6,545.8 L507.6,545.1 L508.6,544.3 L509.6,543.6 L510.6,542.9 L511.6,542.2 L512.6,541.4 L513.6,540.7 L514.6,540.0 L515.6,539.3 L516.6,538.5 L517.6,537.8 L518.6,537.1 L519.6,536.4 L520.6,535.6 L521.6,534.9 L522.6,534.2 L523.6,533.5 L524.6,532.8 L525.6,532.1 L526.6,531.4 L527.6,530.6 L528.6,529.9 L529.6,529.2 L530.6,528.5 L531.6,527.8 L532.6,527.1 L533.6,526.4 L534.6,525.7 L535.6,525.0 L536.6,524.3 L537.6,523.6 L538.6,522.9 L539.6,522.2 L540.6,521.5 L541.6,520.8 L542.6,520.1 L543.6,519.4 L544.6,518.8 L545.6,518.1 L546.6,517.4 L547.6,516.7 L548.6,516.0 L549.6,515.3 L550.6,514.7 L551.6,514.0 L552.6,513.3 L553.6,512.6 L554.6,512.0 L555.6,511.3 L556.6,510.6 L557.6,510.0 L558.6,509.3 L559.6,508.7 L560.6,508.0 L561.6,507.4 L562.6,506.7 L563.6,506.0 L564.6,505.4 L565.6,504.8 L566.6,504.1 L567.6,503.5 L568.6,502.8 L569.6,502.2 L570.6,501.6 L571.6,500.9 L572.6,500.3 L573.6,499.7 L574.6,499.0 L575.6,498.4 L576.6,497.8 L577.6,497.2 L578.6,496.6 L579.6,495.9 L580.6,495.3 L581.6,494.7 L582.6,494.1 L583.6,493.5 L584.6,492.9 L585.6,492.3 L586.6,491.7 L587.6,491.1 L588.6,490.5 L589.6,490.0 L590.6,489.4 L591.6,488.8 L592.6,488.2 L593.6,487.6 L594.6,487.1 L595.6,486.5 L596.6,485.9 L597.6,485.4 L598.6,484.8 L599.6,484.3 L600.6,483.7 L601.6,483.2 L602.6,482.6 L603.6,482.1 L604.6,481.5 L605.6,481.0 L606.6,480.5 L607.6,479.9 L608.6,479.4 L609.6,478.9 L610.6,478.4 L611.6,477.9 L612.6,477.3 L613.6,476.8 L614.6,476.3 L615.6,475.8 L616.6,475.3 L617.6,474.8 L618.6,474.3 L619.6,473.8 L620.6,473.4 L621.6,472.9 L622.6,472.4 L623.6,471.9 L624.6,471.5 L625.6,471.0 L626.6,470.5 L627.6,470.1 L628.6,469.6 L629.6,469.2 L630.6,468.7 L631.6,468.3 L632.6,467.9 L633.2,467.6" stroke="#d814d8" stroke-width="2.0" stroke-dasharray="9.5 9.5"/>
<path d="M388.5,608.1 L417.6,608.1 L418.6,607.2 L419.6,606.2 L420.6,605.2 L421.6,604.3 L422.6,603.3 L423.6,602.3 L424.6,601.3 L425.6,600.3 L426.6,599.3 L427.6,598.2 L428.6,597.2 L429.6,596.2 L430.6,595.1 L431.6,594.0 L432.6,593.0 L433.6,591.9 L434.6,590.8 L435.6,589.7 L436.6,588.6 L437.6,587.5 L438.6,586.4 L439.6,585.2 L440.6,584.1 L441.6,583.0 L442.6,581.8 L443.6,580.7 L444.6,579.5 L445.6,578.4 L446.6,577.2 L447.6,576.0 L448.6,574.9 L449.6,573.7 L450.6,572.5 L451.6,571.3 L452.6,570.1 L453.6,568.9 L454.6,567.7 L455.6,566.5 L456.6,565.3 L457.6,564.1 L458.6,562.8 L459.6,561.6 L460.6,560.4 L461.6,559.2 L462.6,557.9 L463.6,556.7 L464.6,555.5 L465.6,554.2 L466.6,553.0 L467.6,551.7 L468.6,550.5 L469.6,549.2 L470.6,548.0 L471.6,546.8 L472.6,545.5 L473.6,544.3 L474.6,543.0 L475.6,541.7 L476.6,540.5 L477.6,539.2 L478.6,538.0 L479.6,536.7 L480.6,535.5 L481.6,534.2 L482.6,533.0 L483.6,531.7 L484.6,530.5 L485.6,529.2 L486.6,528.0 L487.6,526.8 L488.6,525.5 L489.6,524.3 L490.6,523.0 L491.6,521.8 L492.6,520.6 L493.6,519.3 L494.6,518.1 L495.6,516.9 L496.6,515.7 L497.6,514.5 L498.6,513.2 L499.6,512.0 L500.6,510.8 L501.6,509.6 L502.6,508.4 L503.6,507.2 L504.6,506.0 L505.6,504.9 L506.6,503.7 L507.6,502.5 L508.6,501.3 L509.6,500.2 L510.6,499.0 L511.6,497.9 L512.6,496.7 L513.6,495.6 L514.6,494.5 L515.6,493.3 L516.6,492.2 L517.6,491.1 L518.6,490.0 L519.6,488.9 L520.6,487.8 L521.6,486.7 L522.6,485.6 L523.6,484.6 L524.6,483.5 L525.6,482.5 L526.6,481.4 L527.6,480.4 L528.6,479.4 L529.6,478.4 L530.6,477.4 L531.6,476.4 L532.6,475.4 L533.6,474.4 L534.6,473.4 L535.6,472.5 L536.6,471.5 L537.6,470.6 L538.6,469.6 L539.6,468.7 L540.6,467.8 L541.6,466.9 L542.6,466.0 L543.6,465.1 L544.6,464.2 L545.6,463.3 L546.6,462.4 L547.6,461.6 L548.6,460.7 L549.6,459.9 L550.6,459.1 L551.6,458.2 L552.6,457.4 L553.6,456.6 L554.6,455.8 L555.6,455.0 L556.6,454.3 L557.6,453.5 L558.6,452.7 L559.6,452.0 L560.6,451.2 L561.6,450.5 L562.6,449.8 L563.6,449.1 L564.6,448.3 L565.6,447.7 L566.6,447.0 L567.6,446.3 L568.6,445.6 L569.6,444.9 L570.6,444.3 L571.6,443.6 L572.6,443.0 L573.6,442.4 L574.6,441.8 L575.6,441.2 L576.6,440.6 L577.6,440.0 L578.6,439.4 L579.6,438.8 L580.6,438.2 L581.6,437.7 L582.6,437.1 L583.6,436.6 L584.6,436.1 L585.6,435.6 L586.6,435.0 L587.6,434.5 L588.6,434.0 L589.6,433.6 L590.6,433.1 L591.6,432.6 L592.6,432.2 L593.6,431.7 L594.6,431.3 L595.6,430.9 L596.6,430.4 L597.6,430.0 L598.6,429.6 L599.6,429.2 L600.6,428.8 L601.6,428.5 L602.6,428.1 L603.6,427.7 L604.6,427.4 L605.6,427.1 L606.6,426.7 L607.6,426.4 L608.6,426.1 L609.6,425.8 L610.6,425.5 L611.6,425.2 L612.6,424.9 L613.6,424.7 L614.6,424.4 L615.6,424.2 L616.6,423.9 L617.6,423.7 L618.6,423.5 L619.6,423.3 L620.6,423.1 L621.6,422.9 L622.6,422.7 L623.6,422.5 L624.6,422.3 L625.6,422.2 L626.6,422.0 L627.6,421.9 L628.6,421.8 L629.6,421.7 L630.6,421.5 L631.6,421.5 L632.6,421.5 L633.2,421.5" stroke="#cda640" stroke-width="2.0" stroke-dasharray="4.3 4.3"/>
</g>
<rect x="389.8" y="423.4" width="91.80000000000001" height="51.0" fill="#fff" stroke="#c4c4c4" stroke-width="1"/>
<line x1="390.8" y1="433.5" x2="421.8" y2="433.5" stroke="#44dd44" stroke-width="2"/>
<line x1="390.8" y1="449.9" x2="421.8" y2="449.9" stroke="#d814d8" stroke-width="2" stroke-dasharray="9.5 9.5"/>
<line x1="390.8" y1="466.0" x2="421.8" y2="466.0" stroke="#cda640" stroke-width="2" stroke-dasharray="4.3 4.3"/>
<rect x="388.5" y="421.5" width="245.0" height="187.0" fill="none" stroke="#303030" stroke-width="1.15"/>
<path d="M384.4,608.30H388.4M384.4,581.65H388.4M384.4,555.00H388.4M384.4,528.35H388.4M384.4,501.70H388.4M384.4,475.05H388.4M384.4,448.40H388.4M384.4,421.75H388.4M386.4,594.97H388.4M386.4,568.32H388.4M386.4,541.67H388.4M386.4,515.02H388.4M386.4,488.37H388.4M386.4,461.72H388.4M386.4,435.07H388.4M388.40,608.1V612.1M407.23,608.1V610.1M426.06,608.1V612.1M444.89,608.1V610.1M463.72,608.1V612.1M482.55,608.1V610.1M501.38,608.1V612.1M520.22,608.1V610.1M539.05,608.1V612.1M557.88,608.1V610.1M576.71,608.1V612.1M595.54,608.1V610.1M614.37,608.1V612.1M633.20,608.1V610.1" stroke="#303030" stroke-width="1.1" fill="none"/>
<g clip-path="url(#cR4)" fill="none" stroke-linejoin="round">
<path d="M388.5,806.7 L393.0,806.7 L394.0,806.6 L395.0,806.5 L396.0,806.4 L397.0,806.3 L398.0,806.2 L399.0,806.1 L400.0,805.9 L401.0,805.7 L402.0,805.5 L403.0,805.3 L404.0,805.1 L405.0,804.9 L406.0,804.6 L407.0,804.4 L408.0,804.1 L409.0,803.8 L410.0,803.5 L411.0,803.2 L412.0,802.9 L413.0,802.6 L414.0,802.2 L415.0,801.8 L416.0,801.5 L417.0,801.1 L418.0,800.7 L419.0,800.3 L420.0,799.8 L421.0,799.4 L422.0,799.0 L423.0,798.5 L424.0,798.0 L425.0,797.6 L426.0,797.1 L427.0,796.6 L428.0,796.1 L429.0,795.5 L430.0,795.0 L431.0,794.5 L432.0,793.9 L433.0,793.3 L434.0,792.8 L435.0,792.2 L436.0,791.6 L437.0,791.0 L438.0,790.4 L439.0,789.8 L440.0,789.1 L441.0,788.5 L442.0,787.8 L443.0,787.2 L444.0,786.5 L445.0,785.8 L446.0,785.1 L447.0,784.5 L448.0,783.8 L449.0,783.0 L450.0,782.3 L451.0,781.6 L452.0,780.9 L453.0,780.1 L454.0,779.4 L455.0,778.6 L456.0,777.9 L457.0,777.1 L458.0,776.3 L459.0,775.5 L460.0,774.8 L461.0,774.0 L462.0,773.2 L463.0,772.4 L464.0,771.5 L465.0,770.7 L466.0,769.9 L467.0,769.1 L468.0,768.2 L469.0,767.4 L470.0,766.5 L471.0,765.7 L472.0,764.8 L473.0,764.0 L474.0,763.1 L475.0,762.2 L476.0,761.4 L477.0,760.5 L478.0,759.6 L479.0,758.7 L480.0,757.8 L481.0,756.9 L482.0,756.0 L483.0,755.1 L484.0,754.2 L485.0,753.3 L486.0,752.4 L487.0,751.5 L488.0,750.5 L489.0,749.6 L490.0,748.7 L491.0,747.8 L492.0,746.8 L493.0,745.9 L494.0,745.0 L495.0,744.0 L496.0,743.1 L497.0,742.2 L498.0,741.2 L499.0,740.3 L500.0,739.3 L501.0,738.4 L502.0,737.4 L503.0,736.5 L504.0,735.6 L505.0,734.6 L506.0,733.7 L507.0,732.7 L508.0,731.8 L509.0,730.8 L510.0,729.9 L511.0,728.9 L512.0,728.0 L513.0,727.0 L514.0,726.1 L515.0,725.1 L516.0,724.2 L517.0,723.2 L518.0,722.3 L519.0,721.3 L520.0,720.4 L521.0,719.4 L522.0,718.5 L523.0,717.5 L524.0,716.6 L525.0,715.7 L526.0,714.7 L527.0,713.8 L528.0,712.8 L529.0,711.9 L530.0,711.0 L531.0,710.0 L532.0,709.1 L533.0,708.2 L534.0,707.2 L535.0,706.3 L536.0,705.4 L537.0,704.5 L538.0,703.5 L539.0,702.6 L540.0,701.7 L541.0,700.8 L542.0,699.9 L543.0,699.0 L544.0,698.1 L545.0,697.2 L546.0,696.3 L547.0,695.4 L548.0,694.5 L549.0,693.6 L550.0,692.7 L551.0,691.8 L552.0,690.9 L553.0,690.0 L554.0,689.2 L555.0,688.3 L556.0,687.4 L557.0,686.6 L558.0,685.7 L559.0,684.8 L560.0,684.0 L561.0,683.1 L562.0,682.3 L563.0,681.4 L564.0,680.6 L565.0,679.8 L566.0,678.9 L567.0,678.1 L568.0,677.3 L569.0,676.5 L570.0,675.6 L571.0,674.8 L572.0,674.0 L573.0,673.2 L574.0,672.4 L575.0,671.6 L576.0,670.8 L577.0,670.1 L578.0,669.3 L579.0,668.5 L580.0,667.8 L581.0,667.0 L582.0,666.2 L583.0,665.5 L584.0,664.8 L585.0,664.0 L586.0,663.3 L587.0,662.6 L588.0,661.8 L589.0,661.1 L590.0,660.4 L591.0,659.7 L592.0,659.0 L593.0,658.3 L594.0,657.6 L595.0,657.0 L596.0,656.3 L597.0,655.6 L598.0,655.0 L599.0,654.3 L600.0,653.7 L601.0,653.0 L602.0,652.4 L603.0,651.8 L604.0,651.2 L605.0,650.6 L606.0,650.0 L607.0,649.4 L608.0,648.8 L609.0,648.2 L610.0,647.6 L611.0,647.1 L612.0,646.5 L613.0,646.0 L614.0,645.4 L615.0,644.9 L616.0,644.4 L617.0,643.8 L618.0,643.3 L619.0,642.8 L620.0,642.3 L621.0,641.9 L622.0,641.4 L623.0,640.9 L624.0,640.5 L625.0,640.0 L626.0,639.6 L627.0,639.1 L628.0,638.7 L629.0,638.3 L630.0,637.9 L631.0,637.5 L632.0,637.1 L633.0,636.7 L633.2,636.7" stroke="#44dd44" stroke-width="2.0"/>
<path d="M388.5,806.7 L424.3,806.7 L425.1,805.9 L426.0,805.0 L426.8,804.2 L427.7,803.4 L428.5,802.5 L429.3,801.7 L430.2,800.9 L431.0,800.1 L431.8,799.3 L432.7,798.5 L433.5,797.7 L434.4,796.8 L435.2,796.1 L436.0,795.3 L436.9,794.5 L437.7,793.7 L438.6,792.9 L439.4,792.1 L440.2,791.4 L441.1,790.6 L441.9,789.8 L442.7,789.1 L443.6,788.3 L444.4,787.6 L445.3,786.8 L446.1,786.1 L446.9,785.4 L447.8,784.6 L448.6,783.9 L449.5,783.2 L450.3,782.5 L451.1,781.8 L452.0,781.1 L452.8,780.4 L453.6,779.7 L454.5,779.1 L455.3,778.4 L456.2,777.8 L457.0,777.1 L458.0,776.3 L459.0,775.5 L460.0,774.8 L461.0,774.0 L462.0,773.2 L463.0,772.4 L464.0,771.5 L465.0,770.7 L466.0,769.9 L467.0,769.1 L468.0,768.2 L469.0,767.4 L470.0,766.5 L471.0,765.7 L472.0,764.8 L473.0,764.0 L474.0,763.1 L475.0,762.2 L476.0,761.4 L477.0,760.5 L478.0,759.6 L479.0,758.7 L480.0,757.8 L481.0,756.9 L482.0,756.0 L483.0,755.1 L484.0,754.2 L485.0,753.3 L486.0,752.4 L487.0,751.5 L488.0,750.5 L489.0,749.6 L490.0,748.7 L491.0,747.8 L492.0,746.8 L493.0,745.9 L494.0,745.0 L495.0,744.0 L496.0,743.1 L497.0,742.2 L498.0,741.2 L499.0,740.3 L500.0,739.3 L501.0,738.4 L502.0,737.4 L503.0,736.5 L504.0,735.6 L505.0,734.6 L506.0,733.7 L507.0,732.7 L508.0,731.8 L509.0,730.8 L510.0,729.9 L511.0,728.9 L512.0,728.0 L513.0,727.0 L514.0,726.1 L515.0,725.1 L516.0,724.2 L517.0,723.2 L518.0,722.3 L519.0,721.3 L520.0,720.4 L521.0,719.4 L522.0,718.5 L523.0,717.5 L524.0,716.6 L525.0,715.7 L526.0,714.7 L527.0,713.8 L528.0,712.8 L529.0,711.9 L530.0,711.0 L531.0,710.0 L532.0,709.1 L533.0,708.2 L534.0,707.2 L535.0,706.3 L536.0,705.4 L537.0,704.5 L538.0,703.5 L539.0,702.6 L540.0,701.7 L541.0,700.8 L542.0,699.9 L543.0,699.0 L544.0,698.1 L545.0,697.2 L546.0,696.3 L547.0,695.4 L548.0,694.5 L549.0,693.6 L550.0,692.7 L551.0,691.8 L552.0,690.9 L553.0,690.0 L554.0,689.2 L555.0,688.3 L556.0,687.4 L557.0,686.6 L558.0,685.7 L559.0,684.8 L560.0,684.0 L561.0,683.1 L562.0,682.3 L563.0,681.4 L564.0,680.6 L565.0,679.8 L566.0,678.9 L567.0,678.1 L568.0,677.3 L569.0,676.5 L570.0,675.6 L571.0,674.8 L572.0,674.0 L573.0,673.2 L574.0,672.4 L575.0,671.6 L576.0,670.8 L577.0,670.1 L578.0,669.3 L579.0,668.5 L580.0,667.8 L581.0,667.0 L582.0,666.2 L583.0,665.5 L584.0,664.8 L585.0,664.0 L586.0,663.3 L587.0,662.6 L588.0,661.8 L589.0,661.1 L590.0,660.4 L591.0,659.7 L592.0,659.0 L593.0,658.3 L594.0,657.6 L595.0,657.0 L596.0,656.3 L597.0,655.6 L598.0,655.0 L599.0,654.3 L600.0,653.7 L601.0,653.0 L602.0,652.4 L603.0,651.8 L604.0,651.2 L605.0,650.6 L606.0,650.0 L607.0,649.4 L608.0,648.8 L609.0,648.2 L610.0,647.6 L611.0,647.1 L612.0,646.5 L613.0,646.0 L614.0,645.4 L615.0,644.9 L616.0,644.4 L617.0,643.8 L618.0,643.3 L619.0,642.8 L620.0,642.3 L621.0,641.9 L622.0,641.4 L623.0,640.9 L624.0,640.5 L625.0,640.0 L626.0,639.6 L627.0,639.1 L628.0,638.7 L629.0,638.3 L630.0,637.9 L631.0,637.5 L632.0,637.1 L633.0,636.7 L633.2,636.7" stroke="#d814d8" stroke-width="2.0" stroke-dasharray="9.5 9.5"/>
<path d="M388.5,806.7 L426.8,806.7 L427.8,805.7 L428.8,804.7 L429.8,803.7 L430.8,802.7 L431.8,801.7 L432.8,800.7 L433.8,799.7 L434.8,798.7 L435.8,797.7 L436.9,796.7 L437.9,795.7 L438.9,794.7 L439.9,793.8 L440.9,792.8 L441.9,791.8 L442.9,790.8 L443.9,789.9 L444.9,788.9 L445.9,787.9 L446.9,787.0 L447.9,786.0 L448.9,785.1 L449.9,784.1 L450.9,783.2 L451.9,782.3 L452.9,781.3 L453.9,780.4 L454.9,779.5 L455.9,778.6 L457.0,777.7 L458.0,776.8 L459.0,775.9 L460.0,775.0 L461.0,774.2 L462.0,773.3 L463.0,772.4 L464.0,771.6 L465.0,770.7 L466.0,769.9 L467.0,769.1 L468.0,768.2 L469.0,767.4 L470.0,766.5 L471.0,765.7 L472.0,764.8 L473.0,764.0 L474.0,763.1 L475.0,762.2 L476.0,761.4 L477.0,760.5 L478.0,759.6 L479.0,758.7 L480.0,757.8 L481.0,756.9 L482.0,756.0 L483.0,755.1 L484.0,754.2 L485.0,753.3 L486.0,752.4 L487.0,751.5 L488.0,750.5 L489.0,749.6 L490.0,748.7 L491.0,747.8 L492.0,746.8 L493.0,745.9 L494.0,745.0 L495.0,744.0 L496.0,743.1 L497.0,742.2 L498.0,741.2 L499.0,740.3 L500.0,739.3 L501.0,738.4 L502.0,737.4 L503.0,736.5 L504.0,735.6 L505.0,734.6 L506.0,733.7 L507.0,732.7 L508.0,731.8 L509.0,730.8 L510.0,729.9 L511.0,728.9 L512.0,728.0 L513.0,727.0 L514.0,726.1 L515.0,725.1 L516.0,724.2 L517.0,723.2 L518.0,722.3 L519.0,721.3 L520.0,720.4 L521.0,719.4 L522.0,718.5 L523.0,717.5 L524.0,716.6 L525.0,715.7 L526.0,714.7 L527.0,713.8 L528.0,712.8 L529.0,711.9 L530.0,711.0 L531.0,710.0 L532.0,709.1 L533.0,708.2 L534.0,707.2 L535.0,706.3 L536.0,705.4 L537.0,704.5 L538.0,703.5 L539.0,702.6 L540.0,701.7 L541.0,700.8 L542.0,699.9 L543.0,699.0 L544.0,698.1 L545.0,697.2 L546.0,696.3 L547.0,695.4 L548.0,694.5 L549.0,693.6 L550.0,692.7 L551.0,691.8 L552.0,690.9 L553.0,690.0 L554.0,689.2 L555.0,688.3 L556.0,687.4 L557.0,686.6 L558.0,685.7 L559.0,684.8 L560.0,684.0 L561.0,683.1 L562.0,682.3 L563.0,681.4 L564.0,680.6 L565.0,679.8 L566.0,678.9 L567.0,678.1 L568.0,677.3 L569.0,676.5 L570.0,675.6 L571.0,674.8 L572.0,674.0 L573.0,673.2 L574.0,672.4 L575.0,671.6 L576.0,670.8 L577.0,670.1 L578.0,669.3 L579.0,668.5 L580.0,667.8 L581.0,667.0 L582.0,666.2 L583.0,665.5 L584.0,664.8 L585.0,664.0 L586.0,663.3 L587.0,662.6 L588.0,661.8 L589.0,661.1 L590.0,660.4 L591.0,659.7 L592.0,659.0 L593.0,658.3 L594.0,657.6 L595.0,657.0 L596.0,656.3 L597.0,655.6 L598.0,655.0 L599.0,654.3 L600.0,653.7 L601.0,653.0 L602.0,652.4 L603.0,651.8 L604.0,651.2 L605.0,650.6 L606.0,650.0 L607.0,649.4 L608.0,648.8 L609.0,648.2 L610.0,647.6 L611.0,647.1 L612.0,646.5 L613.0,646.0 L614.0,645.4 L615.0,644.9 L616.0,644.4 L617.0,643.8 L618.0,643.3 L619.0,642.8 L620.0,642.3 L621.0,641.9 L622.0,641.4 L623.0,640.9 L624.0,640.5 L625.0,640.0 L626.0,639.6 L627.0,639.1 L628.0,638.7 L629.0,638.3 L630.0,637.9 L631.0,637.5 L632.0,637.1 L633.0,636.7 L633.2,636.7" stroke="#cda640" stroke-width="2.0" stroke-dasharray="4.3 4.3"/>
</g>
<rect x="391.4" y="629.8" width="110.40000000000003" height="48.40000000000009" fill="#fff" stroke="#c4c4c4" stroke-width="1"/>
<line x1="392.7" y1="639.3" x2="423.3" y2="639.3" stroke="#44dd44" stroke-width="2"/>
<line x1="392.7" y1="655.0" x2="423.3" y2="655.0" stroke="#d814d8" stroke-width="2" stroke-dasharray="9.5 9.5"/>
<line x1="392.7" y1="670.9" x2="423.3" y2="670.9" stroke="#cda640" stroke-width="2" stroke-dasharray="4.3 4.3"/>
<rect x="388.5" y="628.5" width="245.0" height="178.0" fill="none" stroke="#303030" stroke-width="1.15"/>
<path d="M384.4,806.90H388.4M384.4,774.50H388.4M384.4,742.10H388.4M384.4,709.70H388.4M384.4,677.30H388.4M384.4,644.90H388.4M386.4,790.70H388.4M386.4,758.30H388.4M386.4,725.90H388.4M386.4,693.50H388.4M386.4,661.10H388.4M386.4,628.70H388.4M388.40,806.7V810.7M407.23,806.7V808.7M426.06,806.7V810.7M444.89,806.7V808.7M463.72,806.7V810.7M482.55,806.7V808.7M501.38,806.7V810.7M520.22,806.7V808.7M539.05,806.7V810.7M557.88,806.7V808.7M576.71,806.7V810.7M595.54,806.7V808.7M614.37,806.7V810.7M633.20,806.7V808.7" stroke="#303030" stroke-width="1.1" fill="none"/>
</g>
<g filter="url(#bt)">
<text transform="translate(110.90,173.30) scale(1.18,1)" font-family='"Liberation Sans", Arial, sans-serif' font-size="11.6" text-anchor="start" fill="#1a1a1a" stroke="#1a1a1a" stroke-width="0.2" >r = 0.5 nm</text>
<text transform="translate(110.90,187.70) scale(1.18,1)" font-family='"Liberation Sans", Arial, sans-serif' font-size="11.6" text-anchor="start" fill="#1a1a1a" stroke="#1a1a1a" stroke-width="0.2" >r = 0.502 nm</text>
<text transform="translate(110.90,201.70) scale(1.18,1)" font-family='"Liberation Sans", Arial, sans-serif' font-size="11.6" text-anchor="start" fill="#1a1a1a" stroke="#1a1a1a" stroke-width="0.2" >r = 0.504 nm</text>
<text transform="translate(60.60,33.60) scale(1.18,1)" font-family='"Liberation Sans", Arial, sans-serif' font-size="11.6" text-anchor="end" fill="#1a1a1a" stroke="#1a1a1a" stroke-width="0.2" >0.0</text>
<text transform="translate(60.60,73.40) scale(1.18,1)" font-family='"Liberation Sans", Arial, sans-serif' font-size="11.6" text-anchor="end" fill="#1a1a1a" stroke="#1a1a1a" stroke-width="0.2" >-0.1</text>
<text transform="translate(60.60,113.20) scale(1.18,1)" font-family='"Liberation Sans", Arial, sans-serif' font-size="11.6" text-anchor="end" fill="#1a1a1a" stroke="#1a1a1a" stroke-width="0.2" >-0.2</text>
<text transform="translate(60.60,153.00) scale(1.18,1)" font-family='"Liberation Sans", Arial, sans-serif' font-size="11.6" text-anchor="end" fill="#1a1a1a" stroke="#1a1a1a" stroke-width="0.2" >-0.3</text>
<text transform="translate(60.60,192.80) scale(1.18,1)" font-family='"Liberation Sans", Arial, sans-serif' font-size="11.6" text-anchor="end" fill="#1a1a1a" stroke="#1a1a1a" stroke-width="0.2" >-0.4</text>
<text transform="translate(67.50,223.70) scale(1.18,1)" font-family='"Liberation Sans", Arial, sans-serif' font-size="11.6" text-anchor="middle" fill="#1a1a1a" stroke="#1a1a1a" stroke-width="0.2" >0.0</text>
<text transform="translate(107.12,223.70) scale(1.18,1)" font-family='"Liberation Sans", Arial, sans-serif' font-size="11.6" text-anchor="middle" fill="#1a1a1a" stroke="#1a1a1a" stroke-width="0.2" >0.2</text>
<text transform="translate(146.73,223.70) scale(1.18,1)" font-family='"Liberation Sans", Arial, sans-serif' font-size="11.6" text-anchor="middle" fill="#1a1a1a" stroke="#1a1a1a" stroke-width="0.2" >0.4</text>
<text transform="translate(186.35,223.70) scale(1.18,1)" font-family='"Liberation Sans", Arial, sans-serif' font-size="11.6" text-anchor="middle" fill="#1a1a1a" stroke="#1a1a1a" stroke-width="0.2" >0.6</text>
<text transform="translate(225.96,223.70) scale(1.18,1)" font-family='"Liberation Sans", Arial, sans-serif' font-size="11.6" text-anchor="middle" fill="#1a1a1a" stroke="#1a1a1a" stroke-width="0.2" >0.8</text>
<text transform="translate(265.58,223.70) scale(1.18,1)" font-family='"Liberation Sans", Arial, sans-serif' font-size="11.6" text-anchor="middle" fill="#1a1a1a" stroke="#1a1a1a" stroke-width="0.2" >1.0</text>
<text transform="translate(305.19,223.70) scale(1.18,1)" font-family='"Liberation Sans", Arial, sans-serif' font-size="11.6" text-anchor="middle" fill="#1a1a1a" stroke="#1a1a1a" stroke-width="0.2" >1.2</text>
<text transform="translate(289.80,200.60) scale(1.18,1)" font-family='"Liberation Sans", Arial, sans-serif' font-size="11.6" text-anchor="start" fill="#1a1a1a" stroke="#1a1a1a" stroke-width="0.2" >(a)</text>
<text transform="translate(109.30,370.90) scale(1.18,1)" font-family='"Liberation Sans", Arial, sans-serif' font-size="11.6" text-anchor="start" fill="#1a1a1a" stroke="#1a1a1a" stroke-width="0.2" >R = 7.5 nm</text>
<text transform="translate(109.30,386.00) scale(1.18,1)" font-family='"Liberation Sans", Arial, sans-serif' font-size="11.6" text-anchor="start" fill="#1a1a1a" stroke="#1a1a1a" stroke-width="0.2" >R = 7.52 nm</text>
<text transform="translate(109.30,400.40) scale(1.18,1)" font-family='"Liberation Sans", Arial, sans-serif' font-size="11.6" text-anchor="start" fill="#1a1a1a" stroke="#1a1a1a" stroke-width="0.2" >R = 7.53 nm</text>
<text transform="translate(60.60,230.20) scale(1.18,1)" font-family='"Liberation Sans", Arial, sans-serif' font-size="11.6" text-anchor="end" fill="#1a1a1a" stroke="#1a1a1a" stroke-width="0.2" >0.0</text>
<text transform="translate(60.60,254.45) scale(1.18,1)" font-family='"Liberation Sans", Arial, sans-serif' font-size="11.6" text-anchor="end" fill="#1a1a1a" stroke="#1a1a1a" stroke-width="0.2" >-0.5</text>
<text transform="translate(60.60,278.70) scale(1.18,1)" font-family='"Liberation Sans", Arial, sans-serif' font-size="11.6" text-anchor="end" fill="#1a1a1a" stroke="#1a1a1a" stroke-width="0.2" >-1.0</text>
<text transform="translate(60.60,302.95) scale(1.18,1)" font-family='"Liberation Sans", Arial, sans-serif' font-size="11.6" text-anchor="end" fill="#1a1a1a" stroke="#1a1a1a" stroke-width="0.2" >-1.5</text>
<text transform="translate(60.60,327.20) scale(1.18,1)" font-family='"Liberation Sans", Arial, sans-serif' font-size="11.6" text-anchor="end" fill="#1a1a1a" stroke="#1a1a1a" stroke-width="0.2" >-2.0</text>
<text transform="translate(60.60,351.45) scale(1.18,1)" font-family='"Liberation Sans", Arial, sans-serif' font-size="11.6" text-anchor="end" fill="#1a1a1a" stroke="#1a1a1a" stroke-width="0.2" >-2.5</text>
<text transform="translate(60.60,375.70) scale(1.18,1)" font-family='"Liberation Sans", Arial, sans-serif' font-size="11.6" text-anchor="end" fill="#1a1a1a" stroke="#1a1a1a" stroke-width="0.2" >-3.0</text>
<text transform="translate(60.60,399.95) scale(1.18,1)" font-family='"Liberation Sans", Arial, sans-serif' font-size="11.6" text-anchor="end" fill="#1a1a1a" stroke="#1a1a1a" stroke-width="0.2" >-3.5</text>
<text transform="translate(67.50,419.70) scale(1.18,1)" font-family='"Liberation Sans", Arial, sans-serif' font-size="11.6" text-anchor="middle" fill="#1a1a1a" stroke="#1a1a1a" stroke-width="0.2" >0.0</text>
<text transform="translate(107.12,419.70) scale(1.18,1)" font-family='"Liberation Sans", Arial, sans-serif' font-size="11.6" text-anchor="middle" fill="#1a1a1a" stroke="#1a1a1a" stroke-width="0.2" >0.2</text>
<text transform="translate(146.73,419.70) scale(1.18,1)" font-family='"Liberation Sans", Arial, sans-serif' font-size="11.6" text-anchor="middle" fill="#1a1a1a" stroke="#1a1a1a" stroke-width="0.2" >0.4</text>
<text transform="translate(186.35,419.70) scale(1.18,1)" font-family='"Liberation Sans", Arial, sans-serif' font-size="11.6" text-anchor="middle" fill="#1a1a1a" stroke="#1a1a1a" stroke-width="0.2" >0.6</text>
<text transform="translate(225.96,419.70) scale(1.18,1)" font-family='"Liberation Sans", Arial, sans-serif' font-size="11.6" text-anchor="middle" fill="#1a1a1a" stroke="#1a1a1a" stroke-width="0.2" >0.8</text>
<text transform="translate(265.58,419.70) scale(1.18,1)" font-family='"Liberation Sans", Arial, sans-serif' font-size="11.6" text-anchor="middle" fill="#1a1a1a" stroke="#1a1a1a" stroke-width="0.2" >1.0</text>
<text transform="translate(305.19,419.70) scale(1.18,1)" font-family='"Liberation Sans", Arial, sans-serif' font-size="11.6" text-anchor="middle" fill="#1a1a1a" stroke="#1a1a1a" stroke-width="0.2" >1.2</text>
<text transform="translate(288.20,399.60) scale(1.18,1)" font-family='"Liberation Sans", Arial, sans-serif' font-size="11.6" text-anchor="start" fill="#1a1a1a" stroke="#1a1a1a" stroke-width="0.2" >(b)</text>
<text transform="translate(109.50,565.60) scale(1.18,1)" font-family='"Liberation Sans", Arial, sans-serif' font-size="11.6" text-anchor="start" fill="#1a1a1a" stroke="#1a1a1a" stroke-width="0.2" ><tspan font-family='"Liberation Serif", "Times New Roman", serif'>&#964;</tspan> = 6 ps</text>
<text transform="translate(109.50,582.00) scale(1.18,1)" font-family='"Liberation Sans", Arial, sans-serif' font-size="11.6" text-anchor="start" fill="#1a1a1a" stroke="#1a1a1a" stroke-width="0.2" ><tspan font-family='"Liberation Serif", "Times New Roman", serif'>&#964;</tspan> = 8 ps</text>
<text transform="translate(109.50,598.10) scale(1.18,1)" font-family='"Liberation Sans", Arial, sans-serif' font-size="11.6" text-anchor="start" fill="#1a1a1a" stroke="#1a1a1a" stroke-width="0.2" ><tspan font-family='"Liberation Serif", "Times New Roman", serif'>&#964;</tspan> = 10 ps</text>
<text transform="translate(60.60,424.50) scale(1.18,1)" font-family='"Liberation Sans", Arial, sans-serif' font-size="11.6" text-anchor="end" fill="#1a1a1a" stroke="#1a1a1a" stroke-width="0.2" >0.0</text>
<text transform="translate(60.60,450.97) scale(1.18,1)" font-family='"Liberation Sans", Arial, sans-serif' font-size="11.6" text-anchor="end" fill="#1a1a1a" stroke="#1a1a1a" stroke-width="0.2" >-0.1</text>
<text transform="translate(60.60,477.44) scale(1.18,1)" font-family='"Liberation Sans", Arial, sans-serif' font-size="11.6" text-anchor="end" fill="#1a1a1a" stroke="#1a1a1a" stroke-width="0.2" >-0.2</text>
<text transform="translate(60.60,503.91) scale(1.18,1)" font-family='"Liberation Sans", Arial, sans-serif' font-size="11.6" text-anchor="end" fill="#1a1a1a" stroke="#1a1a1a" stroke-width="0.2" >-0.3</text>
<text transform="translate(60.60,530.38) scale(1.18,1)" font-family='"Liberation Sans", Arial, sans-serif' font-size="11.6" text-anchor="end" fill="#1a1a1a" stroke="#1a1a1a" stroke-width="0.2" >-0.4</text>
<text transform="translate(60.60,556.85) scale(1.18,1)" font-family='"Liberation Sans", Arial, sans-serif' font-size="11.6" text-anchor="end" fill="#1a1a1a" stroke="#1a1a1a" stroke-width="0.2" >-0.5</text>
<text transform="translate(60.60,583.32) scale(1.18,1)" font-family='"Liberation Sans", Arial, sans-serif' font-size="11.6" text-anchor="end" fill="#1a1a1a" stroke="#1a1a1a" stroke-width="0.2" >-0.6</text>
<text transform="translate(60.60,609.79) scale(1.18,1)" font-family='"Liberation Sans", Arial, sans-serif' font-size="11.6" text-anchor="end" fill="#1a1a1a" stroke="#1a1a1a" stroke-width="0.2" >-0.7</text>
<text transform="translate(67.50,621.70) scale(1.18,1)" font-family='"Liberation Sans", Arial, sans-serif' font-size="11.6" text-anchor="middle" fill="#1a1a1a" stroke="#1a1a1a" stroke-width="0.2" >0.0</text>
<text transform="translate(107.12,621.70) scale(1.18,1)" font-family='"Liberation Sans", Arial, sans-serif' font-size="11.6" text-anchor="middle" fill="#1a1a1a" stroke="#1a1a1a" stroke-width="0.2" >0.2</text>
<text transform="translate(146.73,621.70) scale(1.18,1)" font-family='"Liberation Sans", Arial, sans-serif' font-size="11.6" text-anchor="middle" fill="#1a1a1a" stroke="#1a1a1a" stroke-width="0.2" >0.4</text>
<text transform="translate(186.35,621.70) scale(1.18,1)" font-family='"Liberation Sans", Arial, sans-serif' font-size="11.6" text-anchor="middle" fill="#1a1a1a" stroke="#1a1a1a" stroke-width="0.2" >0.6</text>
<text transform="translate(225.96,621.70) scale(1.18,1)" font-family='"Liberation Sans", Arial, sans-serif' font-size="11.6" text-anchor="middle" fill="#1a1a1a" stroke="#1a1a1a" stroke-width="0.2" >0.8</text>
<text transform="translate(265.58,621.70) scale(1.18,1)" font-family='"Liberation Sans", Arial, sans-serif' font-size="11.6" text-anchor="middle" fill="#1a1a1a" stroke="#1a1a1a" stroke-width="0.2" >1.0</text>
<text transform="translate(305.19,621.70) scale(1.18,1)" font-family='"Liberation Sans", Arial, sans-serif' font-size="11.6" text-anchor="middle" fill="#1a1a1a" stroke="#1a1a1a" stroke-width="0.2" >1.2</text>
<text transform="translate(292.60,600.60) scale(1.18,1)" font-family='"Liberation Sans", Arial, sans-serif' font-size="11.6" text-anchor="start" fill="#1a1a1a" stroke="#1a1a1a" stroke-width="0.2" >(c)</text>
<text transform="translate(106.00,769.80) scale(1.18,1)" font-family='"Liberation Sans", Arial, sans-serif' font-size="11.6" text-anchor="start" fill="#1a1a1a" stroke="#1a1a1a" stroke-width="0.2" ><tspan font-family='"Liberation Serif", "Times New Roman", serif'>&#956; = 0</tspan></text>
<text transform="translate(106.00,785.30) scale(1.18,1)" font-family='"Liberation Sans", Arial, sans-serif' font-size="11.6" text-anchor="start" fill="#1a1a1a" stroke="#1a1a1a" stroke-width="0.2" ><tspan font-family='"Liberation Serif", "Times New Roman", serif'>&#956; =</tspan>80 meV</text>
<text transform="translate(106.00,800.80) scale(1.18,1)" font-family='"Liberation Sans", Arial, sans-serif' font-size="11.6" text-anchor="start" fill="#1a1a1a" stroke="#1a1a1a" stroke-width="0.2" ><tspan font-family='"Liberation Serif", "Times New Roman", serif'>&#956; =</tspan> 100 meV</text>
<text transform="translate(60.60,631.20) scale(1.18,1)" font-family='"Liberation Sans", Arial, sans-serif' font-size="11.6" text-anchor="end" fill="#1a1a1a" stroke="#1a1a1a" stroke-width="0.2" >0.0</text>
<text transform="translate(60.60,671.10) scale(1.18,1)" font-family='"Liberation Sans", Arial, sans-serif' font-size="11.6" text-anchor="end" fill="#1a1a1a" stroke="#1a1a1a" stroke-width="0.2" >-0.1</text>
<text transform="translate(60.60,711.00) scale(1.18,1)" font-family='"Liberation Sans", Arial, sans-serif' font-size="11.6" text-anchor="end" fill="#1a1a1a" stroke="#1a1a1a" stroke-width="0.2" >-0.2</text>
<text transform="translate(60.60,750.90) scale(1.18,1)" font-family='"Liberation Sans", Arial, sans-serif' font-size="11.6" text-anchor="end" fill="#1a1a1a" stroke="#1a1a1a" stroke-width="0.2" >-0.3</text>
<text transform="translate(60.60,790.80) scale(1.18,1)" font-family='"Liberation Sans", Arial, sans-serif' font-size="11.6" text-anchor="end" fill="#1a1a1a" stroke="#1a1a1a" stroke-width="0.2" >-0.4</text>
<text transform="translate(67.50,822.70) scale(1.18,1)" font-family='"Liberation Sans", Arial, sans-serif' font-size="11.6" text-anchor="middle" fill="#1a1a1a" stroke="#1a1a1a" stroke-width="0.2" >0.0</text>
<text transform="translate(107.12,822.70) scale(1.18,1)" font-family='"Liberation Sans", Arial, sans-serif' font-size="11.6" text-anchor="middle" fill="#1a1a1a" stroke="#1a1a1a" stroke-width="0.2" >0.2</text>
<text transform="translate(146.73,822.70) scale(1.18,1)" font-family='"Liberation Sans", Arial, sans-serif' font-size="11.6" text-anchor="middle" fill="#1a1a1a" stroke="#1a1a1a" stroke-width="0.2" >0.4</text>
<text transform="translate(186.35,822.70) scale(1.18,1)" font-family='"Liberation Sans", Arial, sans-serif' font-size="11.6" text-anchor="middle" fill="#1a1a1a" stroke="#1a1a1a" stroke-width="0.2" >0.6</text>
<text transform="translate(225.96,822.70) scale(1.18,1)" font-family='"Liberation Sans", Arial, sans-serif' font-size="11.6" text-anchor="middle" fill="#1a1a1a" stroke="#1a1a1a" stroke-width="0.2" >0.8</text>
<text transform="translate(265.58,822.70) scale(1.18,1)" font-family='"Liberation Sans", Arial, sans-serif' font-size="11.6" text-anchor="middle" fill="#1a1a1a" stroke="#1a1a1a" stroke-width="0.2" >1.0</text>
<text transform="translate(305.19,822.70) scale(1.18,1)" font-family='"Liberation Sans", Arial, sans-serif' font-size="11.6" text-anchor="middle" fill="#1a1a1a" stroke="#1a1a1a" stroke-width="0.2" >1.2</text>
<text transform="translate(293.30,801.60) scale(1.18,1)" font-family='"Liberation Sans", Arial, sans-serif' font-size="11.6" text-anchor="start" fill="#1a1a1a" stroke="#1a1a1a" stroke-width="0.2" >(d)</text>
<text transform="translate(429.30,42.10) scale(1.125,1)" font-family='"Liberation Sans", Arial, sans-serif' font-size="11.6" text-anchor="start" fill="#1a1a1a" stroke="#1a1a1a" stroke-width="0.2" >r = 0.5 nm</text>
<text transform="translate(429.30,56.40) scale(1.125,1)" font-family='"Liberation Sans", Arial, sans-serif' font-size="11.6" text-anchor="start" fill="#1a1a1a" stroke="#1a1a1a" stroke-width="0.2" >r = 0.502 nm</text>
<text transform="translate(429.30,70.70) scale(1.125,1)" font-family='"Liberation Sans", Arial, sans-serif' font-size="11.6" text-anchor="start" fill="#1a1a1a" stroke="#1a1a1a" stroke-width="0.2" >r = 0.504 nm</text>
<text transform="translate(381.80,209.60) scale(1.125,1)" font-family='"Liberation Sans", Arial, sans-serif' font-size="11.6" text-anchor="end" fill="#1a1a1a" stroke="#1a1a1a" stroke-width="0.2" >0.00</text>
<text transform="translate(381.80,175.80) scale(1.125,1)" font-family='"Liberation Sans", Arial, sans-serif' font-size="11.6" text-anchor="end" fill="#1a1a1a" stroke="#1a1a1a" stroke-width="0.2" >0.02</text>
<text transform="translate(381.80,142.00) scale(1.125,1)" font-family='"Liberation Sans", Arial, sans-serif' font-size="11.6" text-anchor="end" fill="#1a1a1a" stroke="#1a1a1a" stroke-width="0.2" >0.04</text>
<text transform="translate(381.80,108.20) scale(1.125,1)" font-family='"Liberation Sans", Arial, sans-serif' font-size="11.6" text-anchor="end" fill="#1a1a1a" stroke="#1a1a1a" stroke-width="0.2" >0.06</text>
<text transform="translate(381.80,74.40) scale(1.125,1)" font-family='"Liberation Sans", Arial, sans-serif' font-size="11.6" text-anchor="end" fill="#1a1a1a" stroke="#1a1a1a" stroke-width="0.2" >0.08</text>
<text transform="translate(381.80,40.60) scale(1.125,1)" font-family='"Liberation Sans", Arial, sans-serif' font-size="11.6" text-anchor="end" fill="#1a1a1a" stroke="#1a1a1a" stroke-width="0.2" >0.10</text>
<text transform="translate(388.40,221.90) scale(1.125,1)" font-family='"Liberation Sans", Arial, sans-serif' font-size="11.6" text-anchor="middle" fill="#1a1a1a" stroke="#1a1a1a" stroke-width="0.2" >0.0</text>
<text transform="translate(426.06,221.90) scale(1.125,1)" font-family='"Liberation Sans", Arial, sans-serif' font-size="11.6" text-anchor="middle" fill="#1a1a1a" stroke="#1a1a1a" stroke-width="0.2" >0.2</text>
<text transform="translate(463.72,221.90) scale(1.125,1)" font-family='"Liberation Sans", Arial, sans-serif' font-size="11.6" text-anchor="middle" fill="#1a1a1a" stroke="#1a1a1a" stroke-width="0.2" >0.4</text>
<text transform="translate(501.38,221.90) scale(1.125,1)" font-family='"Liberation Sans", Arial, sans-serif' font-size="11.6" text-anchor="middle" fill="#1a1a1a" stroke="#1a1a1a" stroke-width="0.2" >0.6</text>
<text transform="translate(539.05,221.90) scale(1.125,1)" font-family='"Liberation Sans", Arial, sans-serif' font-size="11.6" text-anchor="middle" fill="#1a1a1a" stroke="#1a1a1a" stroke-width="0.2" >0.8</text>
<text transform="translate(576.71,221.90) scale(1.125,1)" font-family='"Liberation Sans", Arial, sans-serif' font-size="11.6" text-anchor="middle" fill="#1a1a1a" stroke="#1a1a1a" stroke-width="0.2" >1.0</text>
<text transform="translate(614.37,221.90) scale(1.125,1)" font-family='"Liberation Sans", Arial, sans-serif' font-size="11.6" text-anchor="middle" fill="#1a1a1a" stroke="#1a1a1a" stroke-width="0.2" >1.2</text>
<text transform="translate(614.00,185.90) scale(1.125,1)" font-family='"Liberation Sans", Arial, sans-serif' font-size="11.6" text-anchor="start" fill="#1a1a1a" stroke="#1a1a1a" stroke-width="0.2" >(a)</text>
<text transform="translate(428.60,242.60) scale(1.125,1)" font-family='"Liberation Sans", Arial, sans-serif' font-size="11.6" text-anchor="start" fill="#1a1a1a" stroke="#1a1a1a" stroke-width="0.2" >R = 7.5nm</text>
<text transform="translate(428.60,257.10) scale(1.125,1)" font-family='"Liberation Sans", Arial, sans-serif' font-size="11.6" text-anchor="start" fill="#1a1a1a" stroke="#1a1a1a" stroke-width="0.2" >R = 7.52 nm</text>
<text transform="translate(428.60,271.10) scale(1.125,1)" font-family='"Liberation Sans", Arial, sans-serif' font-size="11.6" text-anchor="start" fill="#1a1a1a" stroke="#1a1a1a" stroke-width="0.2" >R = 7.53 nm</text>
<text transform="translate(381.80,408.00) scale(1.125,1)" font-family='"Liberation Sans", Arial, sans-serif' font-size="11.6" text-anchor="end" fill="#1a1a1a" stroke="#1a1a1a" stroke-width="0.2" >0.0</text>
<text transform="translate(381.80,368.20) scale(1.125,1)" font-family='"Liberation Sans", Arial, sans-serif' font-size="11.6" text-anchor="end" fill="#1a1a1a" stroke="#1a1a1a" stroke-width="0.2" >0.2</text>
<text transform="translate(381.80,328.40) scale(1.125,1)" font-family='"Liberation Sans", Arial, sans-serif' font-size="11.6" text-anchor="end" fill="#1a1a1a" stroke="#1a1a1a" stroke-width="0.2" >0.4</text>
<text transform="translate(381.80,288.60) scale(1.125,1)" font-family='"Liberation Sans", Arial, sans-serif' font-size="11.6" text-anchor="end" fill="#1a1a1a" stroke="#1a1a1a" stroke-width="0.2" >0.6</text>
<text transform="translate(381.80,248.80) scale(1.125,1)" font-family='"Liberation Sans", Arial, sans-serif' font-size="11.6" text-anchor="end" fill="#1a1a1a" stroke="#1a1a1a" stroke-width="0.2" >0.8</text>
<text transform="translate(388.40,420.50) scale(1.125,1)" font-family='"Liberation Sans", Arial, sans-serif' font-size="11.6" text-anchor="middle" fill="#1a1a1a" stroke="#1a1a1a" stroke-width="0.2" >0.0</text>
<text transform="translate(426.06,420.50) scale(1.125,1)" font-family='"Liberation Sans", Arial, sans-serif' font-size="11.6" text-anchor="middle" fill="#1a1a1a" stroke="#1a1a1a" stroke-width="0.2" >0.2</text>
<text transform="translate(463.72,420.50) scale(1.125,1)" font-family='"Liberation Sans", Arial, sans-serif' font-size="11.6" text-anchor="middle" fill="#1a1a1a" stroke="#1a1a1a" stroke-width="0.2" >0.4</text>
<text transform="translate(501.38,420.50) scale(1.125,1)" font-family='"Liberation Sans", Arial, sans-serif' font-size="11.6" text-anchor="middle" fill="#1a1a1a" stroke="#1a1a1a" stroke-width="0.2" >0.6</text>
<text transform="translate(539.05,420.50) scale(1.125,1)" font-family='"Liberation Sans", Arial, sans-serif' font-size="11.6" text-anchor="middle" fill="#1a1a1a" stroke="#1a1a1a" stroke-width="0.2" >0.8</text>
<text transform="translate(576.71,420.50) scale(1.125,1)" font-family='"Liberation Sans", Arial, sans-serif' font-size="11.6" text-anchor="middle" fill="#1a1a1a" stroke="#1a1a1a" stroke-width="0.2" >1.0</text>
<text transform="translate(614.37,420.50) scale(1.125,1)" font-family='"Liberation Sans", Arial, sans-serif' font-size="11.6" text-anchor="middle" fill="#1a1a1a" stroke="#1a1a1a" stroke-width="0.2" >1.2</text>
<text transform="translate(613.60,399.00) scale(1.125,1)" font-family='"Liberation Sans", Arial, sans-serif' font-size="11.6" text-anchor="start" fill="#1a1a1a" stroke="#1a1a1a" stroke-width="0.2" >(b)</text>
<text transform="translate(428.70,437.60) scale(1.125,1)" font-family='"Liberation Sans", Arial, sans-serif' font-size="11.6" text-anchor="start" fill="#1a1a1a" stroke="#1a1a1a" stroke-width="0.2" ><tspan font-family='"Liberation Serif", "Times New Roman", serif'>&#964;</tspan> = 6 ps</text>
<text transform="translate(428.70,454.00) scale(1.125,1)" font-family='"Liberation Sans", Arial, sans-serif' font-size="11.6" text-anchor="start" fill="#1a1a1a" stroke="#1a1a1a" stroke-width="0.2" ><tspan font-family='"Liberation Serif", "Times New Roman", serif'>&#964;</tspan> = 8 ps</text>
<text transform="translate(428.70,470.10) scale(1.125,1)" font-family='"Liberation Sans", Arial, sans-serif' font-size="11.6" text-anchor="start" fill="#1a1a1a" stroke="#1a1a1a" stroke-width="0.2" ><tspan font-family='"Liberation Serif", "Times New Roman", serif'>&#964;</tspan> = 10 ps</text>
<text transform="translate(381.80,611.90) scale(1.125,1)" font-family='"Liberation Sans", Arial, sans-serif' font-size="11.6" text-anchor="end" fill="#1a1a1a" stroke="#1a1a1a" stroke-width="0.2" >0.00</text>
<text transform="translate(381.80,585.25) scale(1.125,1)" font-family='"Liberation Sans", Arial, sans-serif' font-size="11.6" text-anchor="end" fill="#1a1a1a" stroke="#1a1a1a" stroke-width="0.2" >0.02</text>
<text transform="translate(381.80,558.60) scale(1.125,1)" font-family='"Liberation Sans", Arial, sans-serif' font-size="11.6" text-anchor="end" fill="#1a1a1a" stroke="#1a1a1a" stroke-width="0.2" >0.04</text>
<text transform="translate(381.80,531.95) scale(1.125,1)" font-family='"Liberation Sans", Arial, sans-serif' font-size="11.6" text-anchor="end" fill="#1a1a1a" stroke="#1a1a1a" stroke-width="0.2" >0.06</text>
<text transform="translate(381.80,505.30) scale(1.125,1)" font-family='"Liberation Sans", Arial, sans-serif' font-size="11.6" text-anchor="end" fill="#1a1a1a" stroke="#1a1a1a" stroke-width="0.2" >0.08</text>
<text transform="translate(381.80,478.65) scale(1.125,1)" font-family='"Liberation Sans", Arial, sans-serif' font-size="11.6" text-anchor="end" fill="#1a1a1a" stroke="#1a1a1a" stroke-width="0.2" >0.10</text>
<text transform="translate(381.80,452.00) scale(1.125,1)" font-family='"Liberation Sans", Arial, sans-serif' font-size="11.6" text-anchor="end" fill="#1a1a1a" stroke="#1a1a1a" stroke-width="0.2" >0.12</text>
<text transform="translate(381.80,425.35) scale(1.125,1)" font-family='"Liberation Sans", Arial, sans-serif' font-size="11.6" text-anchor="end" fill="#1a1a1a" stroke="#1a1a1a" stroke-width="0.2" >0.14</text>
<text transform="translate(388.40,624.40) scale(1.125,1)" font-family='"Liberation Sans", Arial, sans-serif' font-size="11.6" text-anchor="middle" fill="#1a1a1a" stroke="#1a1a1a" stroke-width="0.2" >0.0</text>
<text transform="translate(426.06,624.40) scale(1.125,1)" font-family='"Liberation Sans", Arial, sans-serif' font-size="11.6" text-anchor="middle" fill="#1a1a1a" stroke="#1a1a1a" stroke-width="0.2" >0.2</text>
<text transform="translate(463.72,624.40) scale(1.125,1)" font-family='"Liberation Sans", Arial, sans-serif' font-size="11.6" text-anchor="middle" fill="#1a1a1a" stroke="#1a1a1a" stroke-width="0.2" >0.4</text>
<text transform="translate(501.38,624.40) scale(1.125,1)" font-family='"Liberation Sans", Arial, sans-serif' font-size="11.6" text-anchor="middle" fill="#1a1a1a" stroke="#1a1a1a" stroke-width="0.2" >0.6</text>
<text transform="translate(539.05,624.40) scale(1.125,1)" font-family='"Liberation Sans", Arial, sans-serif' font-size="11.6" text-anchor="middle" fill="#1a1a1a" stroke="#1a1a1a" stroke-width="0.2" >0.8</text>
<text transform="translate(576.71,624.40) scale(1.125,1)" font-family='"Liberation Sans", Arial, sans-serif' font-size="11.6" text-anchor="middle" fill="#1a1a1a" stroke="#1a1a1a" stroke-width="0.2" >1.0</text>
<text transform="translate(614.37,624.40) scale(1.125,1)" font-family='"Liberation Sans", Arial, sans-serif' font-size="11.6" text-anchor="middle" fill="#1a1a1a" stroke="#1a1a1a" stroke-width="0.2" >1.2</text>
<text transform="translate(615.80,602.70) scale(1.125,1)" font-family='"Liberation Sans", Arial, sans-serif' font-size="11.6" text-anchor="start" fill="#1a1a1a" stroke="#1a1a1a" stroke-width="0.2" >(c)</text>
<text transform="translate(430.30,643.40) scale(1.125,1)" font-family='"Liberation Sans", Arial, sans-serif' font-size="11.6" text-anchor="start" fill="#1a1a1a" stroke="#1a1a1a" stroke-width="0.2" ><tspan font-family='"Liberation Serif", "Times New Roman", serif'>&#956; = 0</tspan></text>
<text transform="translate(430.30,659.10) scale(1.125,1)" font-family='"Liberation Sans", Arial, sans-serif' font-size="11.6" text-anchor="start" fill="#1a1a1a" stroke="#1a1a1a" stroke-width="0.2" ><tspan font-family='"Liberation Serif", "Times New Roman", serif'>&#956; = 80</tspan> meV</text>
<text transform="translate(430.30,675.00) scale(1.125,1)" font-family='"Liberation Sans", Arial, sans-serif' font-size="11.6" text-anchor="start" fill="#1a1a1a" stroke="#1a1a1a" stroke-width="0.2" ><tspan font-family='"Liberation Serif", "Times New Roman", serif'>&#956; = 100</tspan> meV</text>
<text transform="translate(381.80,810.50) scale(1.125,1)" font-family='"Liberation Sans", Arial, sans-serif' font-size="11.6" text-anchor="end" fill="#1a1a1a" stroke="#1a1a1a" stroke-width="0.2" >0.00</text>
<text transform="translate(381.80,778.10) scale(1.125,1)" font-family='"Liberation Sans", Arial, sans-serif' font-size="11.6" text-anchor="end" fill="#1a1a1a" stroke="#1a1a1a" stroke-width="0.2" >0.02</text>
<text transform="translate(381.80,745.70) scale(1.125,1)" font-family='"Liberation Sans", Arial, sans-serif' font-size="11.6" text-anchor="end" fill="#1a1a1a" stroke="#1a1a1a" stroke-width="0.2" >0.04</text>
<text transform="translate(381.80,713.30) scale(1.125,1)" font-family='"Liberation Sans", Arial, sans-serif' font-size="11.6" text-anchor="end" fill="#1a1a1a" stroke="#1a1a1a" stroke-width="0.2" >0.06</text>
<text transform="translate(381.80,680.90) scale(1.125,1)" font-family='"Liberation Sans", Arial, sans-serif' font-size="11.6" text-anchor="end" fill="#1a1a1a" stroke="#1a1a1a" stroke-width="0.2" >0.08</text>
<text transform="translate(381.80,648.50) scale(1.125,1)" font-family='"Liberation Sans", Arial, sans-serif' font-size="11.6" text-anchor="end" fill="#1a1a1a" stroke="#1a1a1a" stroke-width="0.2" >0.10</text>
<text transform="translate(388.40,822.30) scale(1.125,1)" font-family='"Liberation Sans", Arial, sans-serif' font-size="11.6" text-anchor="middle" fill="#1a1a1a" stroke="#1a1a1a" stroke-width="0.2" >0.0</text>
<text transform="translate(426.06,822.30) scale(1.125,1)" font-family='"Liberation Sans", Arial, sans-serif' font-size="11.6" text-anchor="middle" fill="#1a1a1a" stroke="#1a1a1a" stroke-width="0.2" >0.2</text>
<text transform="translate(463.72,822.30) scale(1.125,1)" font-family='"Liberation Sans", Arial, sans-serif' font-size="11.6" text-anchor="middle" fill="#1a1a1a" stroke="#1a1a1a" stroke-width="0.2" >0.4</text>
<text transform="translate(501.38,822.30) scale(1.125,1)" font-family='"Liberation Sans", Arial, sans-serif' font-size="11.6" text-anchor="middle" fill="#1a1a1a" stroke="#1a1a1a" stroke-width="0.2" >0.6</text>
<text transform="translate(539.05,822.30) scale(1.125,1)" font-family='"Liberation Sans", Arial, sans-serif' font-size="11.6" text-anchor="middle" fill="#1a1a1a" stroke="#1a1a1a" stroke-width="0.2" >0.8</text>
<text transform="translate(576.71,822.30) scale(1.125,1)" font-family='"Liberation Sans", Arial, sans-serif' font-size="11.6" text-anchor="middle" fill="#1a1a1a" stroke="#1a1a1a" stroke-width="0.2" >1.0</text>
<text transform="translate(614.37,822.30) scale(1.125,1)" font-family='"Liberation Sans", Arial, sans-serif' font-size="11.6" text-anchor="middle" fill="#1a1a1a" stroke="#1a1a1a" stroke-width="0.2" >1.2</text>
<text transform="translate(613.80,800.80) scale(1.125,1)" font-family='"Liberation Sans", Arial, sans-serif' font-size="11.6" text-anchor="start" fill="#1a1a1a" stroke="#1a1a1a" stroke-width="0.2" >(d)</text>
<text transform="translate(163.60,840.60) scale(1.15,1)" font-family='"Liberation Sans", Arial, sans-serif' font-size="15.4" text-anchor="start" fill="#1a1a1a" stroke="#1a1a1a" stroke-width="0.2" >h<tspan font-family='"Liberation Serif", "Times New Roman", serif'>&#969;</tspan>(eV)</text>
<text transform="translate(483.60,837.90) scale(1.13,1)" font-family='"Liberation Sans", Arial, sans-serif' font-size="15.4" text-anchor="start" fill="#1a1a1a" stroke="#1a1a1a" stroke-width="0.2" >h<tspan font-family='"Liberation Serif", "Times New Roman", serif'>&#969;</tspan>(eV)</text>
<g transform="translate(29.7,181.4) scale(1.240,1) rotate(-90)" fill="#1a1a1a" stroke="#1a1a1a" stroke-width="0.3">
<text x="0" y="0" font-family='"Liberation Serif", "Times New Roman", serif' font-size="14.2">&#967;</text>
<text x="7.6" y="-7.2" font-family='"Liberation Serif", "Times New Roman", serif' font-size="7.4" textLength="10.6" lengthAdjust="spacingAndGlyphs" stroke-width="0.1">(3)</text>
<text x="3.8" y="3.6" font-family='"Liberation Serif", "Times New Roman", serif' font-size="10" textLength="16.4" lengthAdjust="spacingAndGlyphs" stroke-width="0.1">&#966;&#966;</text>
<text x="20.6" y="4.6" font-family='"Liberation Sans", Arial, sans-serif' font-size="6.4" stroke-width="0.1">R</text>
<text x="25.2" y="0" font-family='"Liberation Serif", "Times New Roman", serif' font-size="13.6" textLength="25.0" lengthAdjust="spacingAndGlyphs">(&#969;)(</text>
<text x="50.6" y="1.2" font-family='"Liberation Serif", "Times New Roman", serif' font-size="13.6">*</text>
<text x="58.2" y="0" font-family='"Liberation Serif", "Times New Roman", serif' font-size="13.6" textLength="15.2" lengthAdjust="spacingAndGlyphs">10</text>
<text x="73.8" y="-6.4" font-family='"Liberation Serif", "Times New Roman", serif' font-size="9.4" textLength="15.0" lengthAdjust="spacingAndGlyphs" stroke-width="0.1">&#8722;11</text>
<text x="89.4" y="0" font-family='"Liberation Sans", Arial, sans-serif' font-size="14" textLength="12.4" lengthAdjust="spacingAndGlyphs">m</text>
<text x="102.4" y="-7.0" font-family='"Liberation Sans", Arial, sans-serif' font-size="9.4" stroke-width="0.1">2</text>
<text x="106.8" y="0" font-family='"Liberation Sans", Arial, sans-serif' font-size="14">/V</text>
<text x="121.8" y="-7.0" font-family='"Liberation Sans", Arial, sans-serif' font-size="9.4" stroke-width="0.1">2</text>
<text x="127.6" y="0" font-family='"Liberation Sans", Arial, sans-serif' font-size="14">)</text>
</g>
<g transform="translate(24.4,374.5) scale(1.240,1) rotate(-90)" fill="#1a1a1a" stroke="#1a1a1a" stroke-width="0.3">
<text x="0" y="0" font-family='"Liberation Serif", "Times New Roman", serif' font-size="14.2">&#967;</text>
<text x="7.6" y="-7.2" font-family='"Liberation Serif", "Times New Roman", serif' font-size="7.4" textLength="10.6" lengthAdjust="spacingAndGlyphs" stroke-width="0.1">(3)</text>
<text x="3.8" y="3.6" font-family='"Liberation Serif", "Times New Roman", serif' font-size="10" textLength="16.4" lengthAdjust="spacingAndGlyphs" stroke-width="0.1">&#966;&#966;</text>
<text x="20.6" y="4.6" font-family='"Liberation Sans", Arial, sans-serif' font-size="6.4" stroke-width="0.1">R</text>
<text x="25.2" y="0" font-family='"Liberation Serif", "Times New Roman", serif' font-size="13.6" textLength="25.0" lengthAdjust="spacingAndGlyphs">(&#969;)(</text>
<text x="50.6" y="1.2" font-family='"Liberation Serif", "Times New Roman", serif' font-size="13.6">*</text>
<text x="58.2" y="0" font-family='"Liberation Serif", "Times New Roman", serif' font-size="13.6" textLength="15.2" lengthAdjust="spacingAndGlyphs">10</text>
<text x="73.8" y="-6.4" font-family='"Liberation Serif", "Times New Roman", serif' font-size="9.4" textLength="15.0" lengthAdjust="spacingAndGlyphs" stroke-width="0.1">&#8722;11</text>
<text x="89.4" y="0" font-family='"Liberation Sans", Arial, sans-serif' font-size="14" textLength="12.4" lengthAdjust="spacingAndGlyphs">m</text>
<text x="102.4" y="-7.0" font-family='"Liberation Sans", Arial, sans-serif' font-size="9.4" stroke-width="0.1">2</text>
<text x="106.8" y="0" font-family='"Liberation Sans", Arial, sans-serif' font-size="14">/V</text>
<text x="121.8" y="-7.0" font-family='"Liberation Sans", Arial, sans-serif' font-size="9.4" stroke-width="0.1">2</text>
<text x="127.6" y="0" font-family='"Liberation Sans", Arial, sans-serif' font-size="14">)</text>
</g>
<g transform="translate(25.0,570.5) scale(1.240,1) rotate(-90)" fill="#1a1a1a" stroke="#1a1a1a" stroke-width="0.3">
<text x="0" y="0" font-family='"Liberation Serif", "Times New Roman", serif' font-size="14.2">&#967;</text>
<text x="7.6" y="-7.2" font-family='"Liberation Serif", "Times New Roman", serif' font-size="7.4" textLength="10.6" lengthAdjust="spacingAndGlyphs" stroke-width="0.1">(3)</text>
<text x="3.8" y="3.6" font-family='"Liberation Serif", "Times New Roman", serif' font-size="10" textLength="16.4" lengthAdjust="spacingAndGlyphs" stroke-width="0.1">&#966;&#966;</text>
<text x="20.6" y="4.6" font-family='"Liberation Sans", Arial, sans-serif' font-size="6.4" stroke-width="0.1">R</text>
<text x="25.2" y="0" font-family='"Liberation Serif", "Times New Roman", serif' font-size="13.6" textLength="25.0" lengthAdjust="spacingAndGlyphs">(&#969;)(</text>
<text x="50.6" y="1.2" font-family='"Liberation Serif", "Times New Roman", serif' font-size="13.6">*</text>
<text x="58.2" y="0" font-family='"Liberation Serif", "Times New Roman", serif' font-size="13.6" textLength="15.2" lengthAdjust="spacingAndGlyphs">10</text>
<text x="73.8" y="-6.4" font-family='"Liberation Serif", "Times New Roman", serif' font-size="9.4" textLength="15.0" lengthAdjust="spacingAndGlyphs" stroke-width="0.1">&#8722;11</text>
<text x="89.4" y="0" font-family='"Liberation Sans", Arial, sans-serif' font-size="14" textLength="12.4" lengthAdjust="spacingAndGlyphs">m</text>
<text x="102.4" y="-7.0" font-family='"Liberation Sans", Arial, sans-serif' font-size="9.4" stroke-width="0.1">2</text>
<text x="106.8" y="0" font-family='"Liberation Sans", Arial, sans-serif' font-size="14">/V</text>
<text x="121.8" y="-7.0" font-family='"Liberation Sans", Arial, sans-serif' font-size="9.4" stroke-width="0.1">2</text>
<text x="127.6" y="0" font-family='"Liberation Sans", Arial, sans-serif' font-size="14">)</text>
</g>
<g transform="translate(27.8,779.5) scale(1.240,1) rotate(-90)" fill="#1a1a1a" stroke="#1a1a1a" stroke-width="0.3">
<text x="0" y="0" font-family='"Liberation Serif", "Times New Roman", serif' font-size="14.2">&#967;</text>
<text x="7.6" y="-7.2" font-family='"Liberation Serif", "Times New Roman", serif' font-size="7.4" textLength="10.6" lengthAdjust="spacingAndGlyphs" stroke-width="0.1">(3)</text>
<text x="3.8" y="3.6" font-family='"Liberation Serif", "Times New Roman", serif' font-size="10" textLength="16.4" lengthAdjust="spacingAndGlyphs" stroke-width="0.1">&#966;&#966;</text>
<text x="20.6" y="4.6" font-family='"Liberation Sans", Arial, sans-serif' font-size="6.4" stroke-width="0.1">R</text>
<text x="25.2" y="0" font-family='"Liberation Serif", "Times New Roman", serif' font-size="13.6" textLength="25.0" lengthAdjust="spacingAndGlyphs">(&#969;)(</text>
<text x="50.6" y="1.2" font-family='"Liberation Serif", "Times New Roman", serif' font-size="13.6">*</text>
<text x="58.2" y="0" font-family='"Liberation Serif", "Times New Roman", serif' font-size="13.6" textLength="15.2" lengthAdjust="spacingAndGlyphs">10</text>
<text x="73.8" y="-6.4" font-family='"Liberation Serif", "Times New Roman", serif' font-size="9.4" textLength="15.0" lengthAdjust="spacingAndGlyphs" stroke-width="0.1">&#8722;11</text>
<text x="89.4" y="0" font-family='"Liberation Sans", Arial, sans-serif' font-size="14" textLength="12.4" lengthAdjust="spacingAndGlyphs">m</text>
<text x="102.4" y="-7.0" font-family='"Liberation Sans", Arial, sans-serif' font-size="9.4" stroke-width="0.1">2</text>
<text x="106.8" y="0" font-family='"Liberation Sans", Arial, sans-serif' font-size="14">/V</text>
<text x="121.8" y="-7.0" font-family='"Liberation Sans", Arial, sans-serif' font-size="9.4" stroke-width="0.1">2</text>
<text x="127.6" y="0" font-family='"Liberation Sans", Arial, sans-serif' font-size="14">)</text>
</g>
<g transform="translate(345.6,183.3) scale(1.178,1) rotate(-90)" fill="#1a1a1a" stroke="#1a1a1a" stroke-width="0.3">
<text x="0" y="0" font-family='"Liberation Serif", "Times New Roman", serif' font-size="14.2">&#967;</text>
<text x="7.6" y="-6.2" font-family='"Liberation Serif", "Times New Roman", serif' font-size="7.4" textLength="10.6" lengthAdjust="spacingAndGlyphs" stroke-width="0.1">(3)</text>
<text x="5.0" y="3.6" font-family='"Liberation Serif", "Times New Roman", serif' font-size="10" textLength="13.2" lengthAdjust="spacingAndGlyphs" stroke-width="0.1">&#966;&#966;</text>
<text x="18.4" y="4.6" font-family='"Liberation Sans", Arial, sans-serif' font-size="6.4" stroke-width="0.1">I</text>
<text x="22.6" y="0" font-family='"Liberation Serif", "Times New Roman", serif' font-size="13.6" textLength="19.6" lengthAdjust="spacingAndGlyphs">(&#969;)</text>
<text x="41.6" y="0" font-family='"Liberation Sans", Arial, sans-serif' font-size="13.6" textLength="28.2" lengthAdjust="spacingAndGlyphs">(*10</text>
<text x="71.2" y="-6.4" font-family='"Liberation Sans", Arial, sans-serif' font-size="9.2" textLength="13.2" lengthAdjust="spacingAndGlyphs" stroke-width="0.1">-10</text>
<text x="85.4" y="0" font-family='"Liberation Sans", Arial, sans-serif' font-size="14">m</text>
<text x="97.2" y="-7.0" font-family='"Liberation Sans", Arial, sans-serif' font-size="9.4" stroke-width="0.1">2</text>
<text x="102.2" y="0" font-family='"Liberation Sans", Arial, sans-serif' font-size="14">/V</text>
<text x="117.0" y="-7.0" font-family='"Liberation Sans", Arial, sans-serif' font-size="9.4" stroke-width="0.1">2</text>
<text x="122.6" y="0" font-family='"Liberation Sans", Arial, sans-serif' font-size="14">)</text>
</g>
<g transform="translate(353.0,380.5) scale(1.178,1) rotate(-90)" fill="#1a1a1a" stroke="#1a1a1a" stroke-width="0.3">
<text x="0" y="0" font-family='"Liberation Serif", "Times New Roman", serif' font-size="14.2">&#967;</text>
<text x="7.6" y="-6.2" font-family='"Liberation Serif", "Times New Roman", serif' font-size="7.4" textLength="10.6" lengthAdjust="spacingAndGlyphs" stroke-width="0.1">(3)</text>
<text x="5.0" y="3.6" font-family='"Liberation Serif", "Times New Roman", serif' font-size="10" textLength="13.2" lengthAdjust="spacingAndGlyphs" stroke-width="0.1">&#966;&#966;</text>
<text x="18.4" y="4.6" font-family='"Liberation Sans", Arial, sans-serif' font-size="6.4" stroke-width="0.1">I</text>
<text x="22.6" y="0" font-family='"Liberation Serif", "Times New Roman", serif' font-size="13.6" textLength="19.6" lengthAdjust="spacingAndGlyphs">(&#969;)</text>
<text x="41.6" y="0" font-family='"Liberation Sans", Arial, sans-serif' font-size="13.6" textLength="28.2" lengthAdjust="spacingAndGlyphs">(*10</text>
<text x="71.2" y="-6.4" font-family='"Liberation Sans", Arial, sans-serif' font-size="9.2" textLength="13.2" lengthAdjust="spacingAndGlyphs" stroke-width="0.1">-10</text>
<text x="85.4" y="0" font-family='"Liberation Sans", Arial, sans-serif' font-size="14">m</text>
<text x="97.2" y="-7.0" font-family='"Liberation Sans", Arial, sans-serif' font-size="9.4" stroke-width="0.1">2</text>
<text x="102.2" y="0" font-family='"Liberation Sans", Arial, sans-serif' font-size="14">/V</text>
<text x="117.0" y="-7.0" font-family='"Liberation Sans", Arial, sans-serif' font-size="9.4" stroke-width="0.1">2</text>
<text x="122.6" y="0" font-family='"Liberation Sans", Arial, sans-serif' font-size="14">)</text>
</g>
<g transform="translate(347.3,586.4) scale(1.178,1) rotate(-90)" fill="#1a1a1a" stroke="#1a1a1a" stroke-width="0.3">
<text x="0" y="0" font-family='"Liberation Serif", "Times New Roman", serif' font-size="14.2">&#967;</text>
<text x="7.6" y="-6.2" font-family='"Liberation Serif", "Times New Roman", serif' font-size="7.4" textLength="10.6" lengthAdjust="spacingAndGlyphs" stroke-width="0.1">(3)</text>
<text x="5.0" y="3.6" font-family='"Liberation Serif", "Times New Roman", serif' font-size="10" textLength="13.2" lengthAdjust="spacingAndGlyphs" stroke-width="0.1">&#966;&#966;</text>
<text x="18.4" y="4.6" font-family='"Liberation Sans", Arial, sans-serif' font-size="6.4" stroke-width="0.1">I</text>
<text x="22.6" y="0" font-family='"Liberation Serif", "Times New Roman", serif' font-size="13.6" textLength="19.6" lengthAdjust="spacingAndGlyphs">(&#969;)</text>
<text x="41.6" y="0" font-family='"Liberation Sans", Arial, sans-serif' font-size="13.6" textLength="28.2" lengthAdjust="spacingAndGlyphs">(*10</text>
<text x="71.2" y="-6.4" font-family='"Liberation Sans", Arial, sans-serif' font-size="9.2" textLength="13.2" lengthAdjust="spacingAndGlyphs" stroke-width="0.1">-10</text>
<text x="85.4" y="0" font-family='"Liberation Sans", Arial, sans-serif' font-size="14">m</text>
<text x="97.2" y="-7.0" font-family='"Liberation Sans", Arial, sans-serif' font-size="9.4" stroke-width="0.1">2</text>
<text x="102.2" y="0" font-family='"Liberation Sans", Arial, sans-serif' font-size="14">/V</text>
<text x="117.0" y="-7.0" font-family='"Liberation Sans", Arial, sans-serif' font-size="9.4" stroke-width="0.1">2</text>
<text x="122.6" y="0" font-family='"Liberation Sans", Arial, sans-serif' font-size="14">)</text>
</g>
<g transform="translate(346.8,787.6) scale(1.178,1) rotate(-90)" fill="#1a1a1a" stroke="#1a1a1a" stroke-width="0.3">
<text x="0" y="0" font-family='"Liberation Serif", "Times New Roman", serif' font-size="14.2">&#967;</text>
<text x="7.6" y="-6.2" font-family='"Liberation Serif", "Times New Roman", serif' font-size="7.4" textLength="10.6" lengthAdjust="spacingAndGlyphs" stroke-width="0.1">(3)</text>
<text x="5.0" y="3.6" font-family='"Liberation Serif", "Times New Roman", serif' font-size="10" textLength="13.2" lengthAdjust="spacingAndGlyphs" stroke-width="0.1">&#966;&#966;</text>
<text x="18.4" y="4.6" font-family='"Liberation Sans", Arial, sans-serif' font-size="6.4" stroke-width="0.1">I</text>
<text x="22.6" y="0" font-family='"Liberation Serif", "Times New Roman", serif' font-size="13.6" textLength="19.6" lengthAdjust="spacingAndGlyphs">(&#969;)</text>
<text x="41.6" y="0" font-family='"Liberation Sans", Arial, sans-serif' font-size="13.6" textLength="28.2" lengthAdjust="spacingAndGlyphs">(*10</text>
<text x="71.2" y="-6.4" font-family='"Liberation Sans", Arial, sans-serif' font-size="9.2" textLength="13.2" lengthAdjust="spacingAndGlyphs" stroke-width="0.1">-10</text>
<text x="85.4" y="0" font-family='"Liberation Sans", Arial, sans-serif' font-size="14">m</text>
<text x="97.2" y="-7.0" font-family='"Liberation Sans", Arial, sans-serif' font-size="9.4" stroke-width="0.1">2</text>
<text x="102.2" y="0" font-family='"Liberation Sans", Arial, sans-serif' font-size="14">/V</text>
<text x="117.0" y="-7.0" font-family='"Liberation Sans", Arial, sans-serif' font-size="9.4" stroke-width="0.1">2</text>
<text x="122.6" y="0" font-family='"Liberation Sans", Arial, sans-serif' font-size="14">)</text>
</g>
</g>
</svg></body></html>
